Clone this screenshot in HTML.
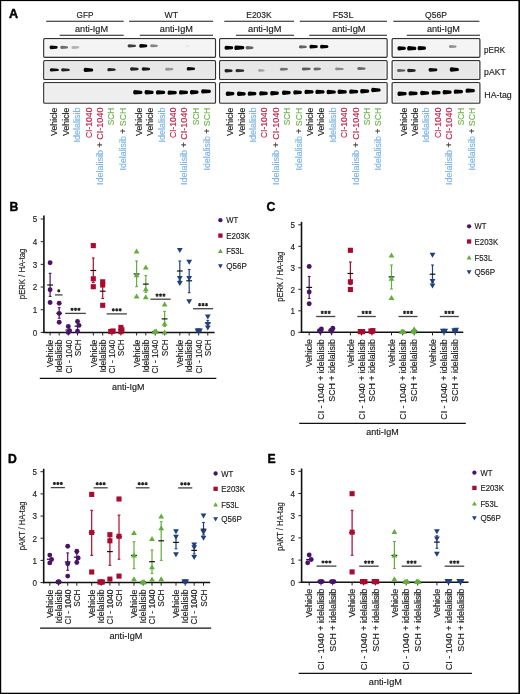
<!DOCTYPE html><html><head><meta charset="utf-8"><style>html,body{margin:0;padding:0;background:#fff;}svg{display:block;font-family:"Liberation Sans", sans-serif;will-change:transform;}</style></head><body>
<svg width="520" height="694" viewBox="0 0 520 694">
<defs><filter id="bl" x="-50%" y="-100%" width="200%" height="300%"><feGaussianBlur stdDeviation="0.65"/></filter><filter id="bl2" x="-50%" y="-100%" width="200%" height="300%"><feGaussianBlur stdDeviation="0.45"/></filter></defs>
<rect x="0" y="0" width="520" height="694" fill="#fff"/>
<text x="9" y="18.2" font-size="12.6" fill="#000" text-anchor="start" font-weight="bold" stroke="#000" stroke-width="0.45">A</text>
<text x="76.6" y="18.4" font-size="9.3" fill="#1a1a1a" text-anchor="start" textLength="16.9" lengthAdjust="spacingAndGlyphs" stroke="#1a1a1a" stroke-width="0.15">GFP</text>
<line x1="46.2" y1="21.3" x2="123.7" y2="21.3" stroke="#1a1a1a" stroke-width="1.1"/>
<text x="75" y="32.4" font-size="8.9" fill="#1a1a1a" text-anchor="start" textLength="33" lengthAdjust="spacingAndGlyphs" stroke="#1a1a1a" stroke-width="0.15">anti-IgM</text>
<line x1="59.7" y1="35.3" x2="123.7" y2="35.3" stroke="#1a1a1a" stroke-width="1.1"/>
<text x="164.6" y="18.4" font-size="9.3" fill="#1a1a1a" text-anchor="start" textLength="13.5" lengthAdjust="spacingAndGlyphs" stroke="#1a1a1a" stroke-width="0.15">WT</text>
<line x1="129.1" y1="21.3" x2="213.1" y2="21.3" stroke="#1a1a1a" stroke-width="1.1"/>
<text x="159.8" y="32.4" font-size="8.9" fill="#1a1a1a" text-anchor="start" textLength="33.1" lengthAdjust="spacingAndGlyphs" stroke="#1a1a1a" stroke-width="0.15">anti-IgM</text>
<line x1="139.8" y1="35.3" x2="213.1" y2="35.3" stroke="#1a1a1a" stroke-width="1.1"/>
<text x="246.3" y="18.4" font-size="9.3" fill="#1a1a1a" text-anchor="start" textLength="25.3" lengthAdjust="spacingAndGlyphs" stroke="#1a1a1a" stroke-width="0.15">E203K</text>
<line x1="224.3" y1="21.3" x2="294" y2="21.3" stroke="#1a1a1a" stroke-width="1.1"/>
<text x="248" y="32.4" font-size="8.9" fill="#1a1a1a" text-anchor="start" textLength="33.4" lengthAdjust="spacingAndGlyphs" stroke="#1a1a1a" stroke-width="0.15">anti-IgM</text>
<line x1="235.9" y1="35.3" x2="294" y2="35.3" stroke="#1a1a1a" stroke-width="1.1"/>
<text x="332.7" y="18.4" font-size="9.3" fill="#1a1a1a" text-anchor="start" textLength="20.8" lengthAdjust="spacingAndGlyphs" stroke="#1a1a1a" stroke-width="0.15">F53L</text>
<line x1="299.8" y1="21.3" x2="387" y2="21.3" stroke="#1a1a1a" stroke-width="1.1"/>
<text x="332" y="32.4" font-size="8.9" fill="#1a1a1a" text-anchor="start" textLength="33.6" lengthAdjust="spacingAndGlyphs" stroke="#1a1a1a" stroke-width="0.15">anti-IgM</text>
<line x1="309.2" y1="35.3" x2="387" y2="35.3" stroke="#1a1a1a" stroke-width="1.1"/>
<text x="425.1" y="18.4" font-size="9.3" fill="#1a1a1a" text-anchor="start" textLength="21.9" lengthAdjust="spacingAndGlyphs" stroke="#1a1a1a" stroke-width="0.15">Q56P</text>
<line x1="393.3" y1="21.3" x2="479.4" y2="21.3" stroke="#1a1a1a" stroke-width="1.1"/>
<text x="426.9" y="32.4" font-size="8.9" fill="#1a1a1a" text-anchor="start" textLength="32.9" lengthAdjust="spacingAndGlyphs" stroke="#1a1a1a" stroke-width="0.15">anti-IgM</text>
<line x1="406.8" y1="35.3" x2="480" y2="35.3" stroke="#1a1a1a" stroke-width="1.1"/>
<rect x="43.75" y="38.65" width="171.7" height="18.6" rx="1.0" fill="#f4f4f4" stroke="#333" stroke-width="1.3"/>
<rect x="44.9" y="39.8" width="169.4" height="16.3" fill="none" stroke="#fff" stroke-opacity="0.75" stroke-width="0.9"/>
<rect x="43.75" y="60.65" width="171.7" height="18.8" rx="1.0" fill="#e7e7e7" stroke="#333" stroke-width="1.3"/>
<rect x="44.9" y="61.8" width="169.4" height="16.5" fill="none" stroke="#fff" stroke-opacity="0.75" stroke-width="0.9"/>
<rect x="43.75" y="82.55" width="171.7" height="20.6" rx="1.0" fill="#eeeeee" stroke="#333" stroke-width="1.3"/>
<rect x="44.9" y="83.7" width="169.4" height="18.3" fill="none" stroke="#fff" stroke-opacity="0.75" stroke-width="0.9"/>
<rect x="219.65" y="38.65" width="167.4" height="18.6" rx="1.0" fill="#f4f4f4" stroke="#333" stroke-width="1.3"/>
<rect x="220.8" y="39.8" width="165.1" height="16.3" fill="none" stroke="#fff" stroke-opacity="0.75" stroke-width="0.9"/>
<rect x="219.65" y="60.65" width="167.4" height="18.8" rx="1.0" fill="#e7e7e7" stroke="#333" stroke-width="1.3"/>
<rect x="220.8" y="61.8" width="165.1" height="16.5" fill="none" stroke="#fff" stroke-opacity="0.75" stroke-width="0.9"/>
<rect x="219.65" y="82.55" width="167.4" height="20.6" rx="1.0" fill="#eeeeee" stroke="#333" stroke-width="1.3"/>
<rect x="220.8" y="83.7" width="165.1" height="18.3" fill="none" stroke="#fff" stroke-opacity="0.75" stroke-width="0.9"/>
<rect x="392.15" y="38.65" width="87.7" height="18.6" rx="1.0" fill="#f4f4f4" stroke="#333" stroke-width="1.3"/>
<rect x="393.3" y="39.8" width="85.4" height="16.3" fill="none" stroke="#fff" stroke-opacity="0.75" stroke-width="0.9"/>
<rect x="392.15" y="60.65" width="87.7" height="18.8" rx="1.0" fill="#e7e7e7" stroke="#333" stroke-width="1.3"/>
<rect x="393.3" y="61.8" width="85.4" height="16.5" fill="none" stroke="#fff" stroke-opacity="0.75" stroke-width="0.9"/>
<rect x="392.15" y="82.55" width="87.7" height="20.6" rx="1.0" fill="#eeeeee" stroke="#333" stroke-width="1.3"/>
<rect x="393.3" y="83.7" width="85.4" height="18.3" fill="none" stroke="#fff" stroke-opacity="0.75" stroke-width="0.9"/>
<path d="M51 45.6C49.1 45.6 49.1 49.2 51 49.2L56.5 48.7C58.1 48.7 58.1 46.1 56.5 46.1L51 45.6C51 45.6 51 45.6 51 45.6Z" fill="#000" fill-opacity="0.95" filter="url(#bl)"/>
<path d="M61.7 45.8C59.8 45.8 59.8 49 61.7 49L66.9 48.55C68.5 48.55 68.5 46.25 66.9 46.25L61.7 45.8C61.7 45.8 61.7 45.8 61.7 45.8Z" fill="#000" fill-opacity="0.55" filter="url(#bl)"/>
<path d="M72.9 45.9C71 45.9 71 48.9 72.9 48.9L78.1 48.48C79.7 48.48 79.7 46.32 78.1 46.32L72.9 45.9C72.9 45.9 72.9 45.9 72.9 45.9Z" fill="#000" fill-opacity="0.28" filter="url(#bl)"/>
<path d="M129.1 44.2C127.2 44.2 127.2 47.4 129.1 47.4L134.8 46.95C136.4 46.95 136.4 44.65 134.8 44.65L129.1 44.2C129.1 44.2 129.1 44.2 129.1 44.2Z" fill="#000" fill-opacity="0.75" filter="url(#bl)"/>
<path d="M140.7 43.9C138.8 43.9 138.8 47.7 140.7 47.7L146.1 47.17C147.7 47.17 147.7 44.43 146.1 44.43L140.7 43.9C140.7 43.9 140.7 43.9 140.7 43.9Z" fill="#000" fill-opacity="1" filter="url(#bl)"/>
<path d="M151.6 44.3C149.7 44.3 149.7 47.3 151.6 47.3L156.7 46.88C158.3 46.88 158.3 44.72 156.7 44.72L151.6 44.3C151.6 44.3 151.6 44.3 151.6 44.3Z" fill="#000" fill-opacity="0.45" filter="url(#bl)"/>
<path d="M186.4 44.7C184.5 44.7 184.5 47.3 186.4 47.3L188.8 46.94C190.4 46.94 190.4 45.06 188.8 45.06L186.4 44.7C186.4 44.7 186.4 44.7 186.4 44.7Z" fill="#000" fill-opacity="0.05" filter="url(#bl)"/>
<path d="M226 45.7C224.1 45.7 224.1 49.7 226 49.7L232 49.14C233.6 49.14 233.6 46.26 232 46.26L226 45.7C226 45.7 226 45.7 226 45.7Z" fill="#000" fill-opacity="1" filter="url(#bl)"/>
<path d="M235.8 45.4C233.9 45.4 233.9 50 235.8 50L243.1 49.36C244.7 49.36 244.7 46.04 243.1 46.04L235.8 45.4C235.8 45.4 235.8 45.4 235.8 45.4Z" fill="#000" fill-opacity="1" filter="url(#bl)"/>
<path d="M247.1 46C245.2 46 245.2 49.4 247.1 49.4L252.3 48.92C253.9 48.92 253.9 46.48 252.3 46.48L247.1 46C247.1 46 247.1 46 247.1 46Z" fill="#000" fill-opacity="0.6" filter="url(#bl)"/>
<path d="M300.4 45.2C298.5 45.2 298.5 48.4 300.4 48.4L305.6 47.95C307.2 47.95 307.2 45.65 305.6 45.65L300.4 45.2C300.4 45.2 300.4 45.2 300.4 45.2Z" fill="#000" fill-opacity="0.6" filter="url(#bl)"/>
<path d="M310.9 44.8C309 44.8 309 48.6 310.9 48.6L316.6 48.07C318.2 48.07 318.2 45.33 316.6 45.33L310.9 44.8C310.9 44.8 310.9 44.8 310.9 44.8Z" fill="#000" fill-opacity="1" filter="url(#bl)"/>
<path d="M321.5 44.8C319.6 44.8 319.6 48.6 321.5 48.6L327.2 48.07C328.8 48.07 328.8 45.33 327.2 45.33L321.5 44.8C321.5 44.8 321.5 44.8 321.5 44.8Z" fill="#000" fill-opacity="1" filter="url(#bl)"/>
<path d="M398.9 46.2C397 46.2 397 50.4 398.9 50.4L404.7 49.81C406.3 49.81 406.3 46.79 404.7 46.79L398.9 46.2C398.9 46.2 398.9 46.2 398.9 46.2Z" fill="#000" fill-opacity="1" filter="url(#bl)"/>
<path d="M408.6 46C406.7 46 406.7 50.6 408.6 50.6L415.1 49.96C416.7 49.96 416.7 46.64 415.1 46.64L408.6 46C408.6 46 408.6 46 408.6 46Z" fill="#000" fill-opacity="1" filter="url(#bl)"/>
<path d="M419 45.9C417.1 45.9 417.1 50.3 419 50.3L424.8 49.68C426.4 49.68 426.4 46.52 424.8 46.52L419 45.9C419 45.9 419 45.9 419 45.9Z" fill="#000" fill-opacity="1" filter="url(#bl)"/>
<path d="M450.3 45.1C448.4 45.1 448.4 48.1 450.3 48.1L455.4 47.68C457 47.68 457 45.52 455.4 45.52L450.3 45.1C450.3 45.1 450.3 45.1 450.3 45.1Z" fill="#000" fill-opacity="0.4" filter="url(#bl)"/>
<path d="M51.3 68.2C49.4 68.2 49.4 71.6 51.3 71.6L57.7 71.12C59.3 71.12 59.3 68.68 57.7 68.68L51.3 68.2C51.3 68.2 51.3 68.2 51.3 68.2Z" fill="#000" fill-opacity="0.95" filter="url(#bl)"/>
<path d="M62.6 68.3C60.7 68.3 60.7 71.5 62.6 71.5L68.6 71.05C70.2 71.05 70.2 68.75 68.6 68.75L62.6 68.3C62.6 68.3 62.6 68.3 62.6 68.3Z" fill="#000" fill-opacity="0.85" filter="url(#bl)"/>
<path d="M85.1 67.8C83.2 67.8 83.2 72 85.1 72L92 71.41C93.6 71.41 93.6 68.39 92 68.39L85.1 67.8C85.1 67.8 85.1 67.8 85.1 67.8Z" fill="#000" fill-opacity="1" filter="url(#bl)"/>
<path d="M108.8 67.9C106.9 67.9 106.9 71.3 108.8 71.3L114.5 70.82C116.1 70.82 116.1 68.38 114.5 68.38L108.8 67.9C108.8 67.9 108.8 67.9 108.8 67.9Z" fill="#000" fill-opacity="0.85" filter="url(#bl)"/>
<path d="M131.5 67.3C129.6 67.3 129.6 70.7 131.5 70.7L137.5 70.22C139.1 70.22 139.1 67.78 137.5 67.78L131.5 67.3C131.5 67.3 131.5 67.3 131.5 67.3Z" fill="#000" fill-opacity="0.85" filter="url(#bl)"/>
<path d="M143.2 67.3C141.3 67.3 141.3 70.7 143.2 70.7L149 70.22C150.6 70.22 150.6 67.78 149 67.78L143.2 67.3C143.2 67.3 143.2 67.3 143.2 67.3Z" fill="#000" fill-opacity="0.9" filter="url(#bl)"/>
<path d="M166.6 67.7C164.7 67.7 164.7 70.7 166.6 70.7L172.2 70.28C173.8 70.28 173.8 68.12 172.2 68.12L166.6 67.7C166.6 67.7 166.6 67.7 166.6 67.7Z" fill="#000" fill-opacity="0.35" filter="url(#bl)"/>
<path d="M188.2 67C186.3 67 186.3 70.6 188.2 70.6L193.8 70.1C195.4 70.1 195.4 67.5 193.8 67.5L188.2 67C188.2 67 188.2 67 188.2 67Z" fill="#000" fill-opacity="0.95" filter="url(#bl)"/>
<path d="M226 69C224.1 69 224.1 72.4 226 72.4L231.5 71.92C233.1 71.92 233.1 69.48 231.5 69.48L226 69C226 69 226 69 226 69Z" fill="#000" fill-opacity="0.85" filter="url(#bl)"/>
<path d="M237 69.1C235.1 69.1 235.1 72.3 237 72.3L243.1 71.85C244.7 71.85 244.7 69.55 243.1 69.55L237 69.1C237 69.1 237 69.1 237 69.1Z" fill="#000" fill-opacity="0.8" filter="url(#bl)"/>
<path d="M259.5 69C257.6 69 257.6 71.8 259.5 71.8L263.5 71.41C265.1 71.41 265.1 69.39 263.5 69.39L259.5 69C259.5 69 259.5 69 259.5 69Z" fill="#000" fill-opacity="0.3" filter="url(#bl)"/>
<path d="M281.3 67.7C279.4 67.7 279.4 70.7 281.3 70.7L286.8 70.28C288.4 70.28 288.4 68.12 286.8 68.12L281.3 67.7C281.3 67.7 281.3 67.7 281.3 67.7Z" fill="#000" fill-opacity="0.5" filter="url(#bl)"/>
<path d="M303.3 67.4C301.4 67.4 301.4 70.4 303.3 70.4L309.5 69.98C311.1 69.98 311.1 67.82 309.5 67.82L303.3 67.4C303.3 67.4 303.3 67.4 303.3 67.4Z" fill="#000" fill-opacity="0.6" filter="url(#bl)"/>
<path d="M315 67.4C313.1 67.4 313.1 70.4 315 70.4L319.8 69.98C321.4 69.98 321.4 67.82 319.8 67.82L315 67.4C315 67.4 315 67.4 315 67.4Z" fill="#000" fill-opacity="0.55" filter="url(#bl)"/>
<path d="M336.6 67.5C334.7 67.5 334.7 70.3 336.6 70.3L342.5 69.91C344.1 69.91 344.1 67.89 342.5 67.89L336.6 67.5C336.6 67.5 336.6 67.5 336.6 67.5Z" fill="#000" fill-opacity="0.4" filter="url(#bl)"/>
<path d="M358.7 67.1C356.8 67.1 356.8 70.1 358.7 70.1L364.4 69.68C366 69.68 366 67.52 364.4 67.52L358.7 67.1C358.7 67.1 358.7 67.1 358.7 67.1Z" fill="#000" fill-opacity="0.55" filter="url(#bl)"/>
<path d="M398.5 69C396.6 69 396.6 72 398.5 72L404.2 71.58C405.8 71.58 405.8 69.42 404.2 69.42L398.5 69C398.5 69 398.5 69 398.5 69Z" fill="#000" fill-opacity="0.6" filter="url(#bl)"/>
<path d="M408.6 68.8C406.7 68.8 406.7 72.2 408.6 72.2L414.6 71.72C416.2 71.72 416.2 69.28 414.6 69.28L408.6 68.8C408.6 68.8 408.6 68.8 408.6 68.8Z" fill="#000" fill-opacity="0.85" filter="url(#bl)"/>
<path d="M430 68.1C428.1 68.1 428.1 71.7 430 71.7L436.2 71.2C437.8 71.2 437.8 68.6 436.2 68.6L430 68.1C430 68.1 430 68.1 430 68.1Z" fill="#000" fill-opacity="0.95" filter="url(#bl)"/>
<path d="M451.2 67.3C449.3 67.3 449.3 71.7 451.2 71.7L457.7 71.08C459.3 71.08 459.3 67.92 457.7 67.92L451.2 67.3C451.2 67.3 451.2 67.3 451.2 67.3Z" fill="#000" fill-opacity="1" filter="url(#bl)"/>
<path d="M134.6 90.1C132.7 90.1 132.7 94.5 134.6 94.5L141.2 93.88C142.8 93.88 142.8 90.72 141.2 90.72L134.6 90.1C134.6 90.1 134.6 90.1 134.6 90.1Z" fill="#000" fill-opacity="1" filter="url(#bl)"/>
<path d="M146 90.1C144.1 90.1 144.1 94.5 146 94.5L152.4 93.88C154 93.88 154 90.72 152.4 90.72L146 90.1C146 90.1 146 90.1 146 90.1Z" fill="#000" fill-opacity="1" filter="url(#bl)"/>
<path d="M157.4 90.2C155.5 90.2 155.5 94.6 157.4 94.6L164 93.98C165.6 93.98 165.6 90.82 164 90.82L157.4 90.2C157.4 90.2 157.4 90.2 157.4 90.2Z" fill="#000" fill-opacity="1" filter="url(#bl)"/>
<path d="M169 90.4C167.1 90.4 167.1 94.8 169 94.8L175.6 94.18C177.2 94.18 177.2 91.02 175.6 91.02L169 90.4C169 90.4 169 90.4 169 90.4Z" fill="#000" fill-opacity="1" filter="url(#bl)"/>
<path d="M180.4 90.2C178.5 90.2 178.5 94.6 180.4 94.6L186.8 93.98C188.4 93.98 188.4 90.82 186.8 90.82L180.4 90.2C180.4 90.2 180.4 90.2 180.4 90.2Z" fill="#000" fill-opacity="1" filter="url(#bl)"/>
<path d="M191.4 90C189.5 90 189.5 94.4 191.4 94.4L197.4 93.78C199 93.78 199 90.62 197.4 90.62L191.4 90C191.4 90 191.4 90 191.4 90Z" fill="#000" fill-opacity="1" filter="url(#bl)"/>
<path d="M202.6 89.2C200.7 89.2 200.7 93.6 202.6 93.6L209.7 92.98C211.3 92.98 211.3 89.82 209.7 89.82L202.6 89.2C202.6 89.2 202.6 89.2 202.6 89.2Z" fill="#000" fill-opacity="1" filter="url(#bl)"/>
<path d="M227.2 91.5C225.3 91.5 225.3 95.9 227.2 95.9L233.2 95.28C234.8 95.28 234.8 92.12 233.2 92.12L227.2 91.5C227.2 91.5 227.2 91.5 227.2 91.5Z" fill="#000" fill-opacity="1" filter="url(#bl)"/>
<path d="M238.4 91.6C236.5 91.6 236.5 96 238.4 96L244.5 95.38C246.1 95.38 246.1 92.22 244.5 92.22L238.4 91.6C238.4 91.6 238.4 91.6 238.4 91.6Z" fill="#000" fill-opacity="1" filter="url(#bl)"/>
<path d="M249.2 91.4C247.3 91.4 247.3 95.8 249.2 95.8L255.2 95.18C256.8 95.18 256.8 92.02 255.2 92.02L249.2 91.4C249.2 91.4 249.2 91.4 249.2 91.4Z" fill="#000" fill-opacity="1" filter="url(#bl)"/>
<path d="M260.6 91.2C258.7 91.2 258.7 95.6 260.6 95.6L266.6 94.98C268.2 94.98 268.2 91.82 266.6 91.82L260.6 91.2C260.6 91.2 260.6 91.2 260.6 91.2Z" fill="#000" fill-opacity="1" filter="url(#bl)"/>
<path d="M271.6 91C269.7 91 269.7 95.4 271.6 95.4L277.7 94.78C279.3 94.78 279.3 91.62 277.7 91.62L271.6 91C271.6 91 271.6 91 271.6 91Z" fill="#000" fill-opacity="1" filter="url(#bl)"/>
<path d="M283.4 90.5C281.5 90.5 281.5 94.9 283.4 94.9L289.5 94.28C291.1 94.28 291.1 91.12 289.5 91.12L283.4 90.5C283.4 90.5 283.4 90.5 283.4 90.5Z" fill="#000" fill-opacity="1" filter="url(#bl)"/>
<path d="M294.7 90.2C292.8 90.2 292.8 94.6 294.7 94.6L300.7 93.98C302.3 93.98 302.3 90.82 300.7 90.82L294.7 90.2C294.7 90.2 294.7 90.2 294.7 90.2Z" fill="#000" fill-opacity="1" filter="url(#bl)"/>
<path d="M305.9 89.7C304 89.7 304 94.1 305.9 94.1L312.4 93.48C314 93.48 314 90.32 312.4 90.32L305.9 89.7C305.9 89.7 305.9 89.7 305.9 89.7Z" fill="#000" fill-opacity="1" filter="url(#bl)"/>
<path d="M316.8 89.7C314.9 89.7 314.9 94.1 316.8 94.1L323.4 93.48C325 93.48 325 90.32 323.4 90.32L316.8 89.7C316.8 89.7 316.8 89.7 316.8 89.7Z" fill="#000" fill-opacity="1" filter="url(#bl)"/>
<path d="M328 89.8C326.1 89.8 326.1 94.2 328 94.2L334.6 93.58C336.2 93.58 336.2 90.42 334.6 90.42L328 89.8C328 89.8 328 89.8 328 89.8Z" fill="#000" fill-opacity="1" filter="url(#bl)"/>
<path d="M339 89.6C337.1 89.6 337.1 94 339 94L345.6 93.38C347.2 93.38 347.2 90.22 345.6 90.22L339 89.6C339 89.6 339 89.6 339 89.6Z" fill="#000" fill-opacity="1" filter="url(#bl)"/>
<path d="M350.6 89.4C348.7 89.4 348.7 93.8 350.6 93.8L357 93.18C358.6 93.18 358.6 90.02 357 90.02L350.6 89.4C350.6 89.4 350.6 89.4 350.6 89.4Z" fill="#000" fill-opacity="1" filter="url(#bl)"/>
<path d="M361.6 89C359.7 89 359.7 93.4 361.6 93.4L368 92.78C369.6 92.78 369.6 89.62 368 89.62L361.6 89C361.6 89 361.6 89 361.6 89Z" fill="#000" fill-opacity="1" filter="url(#bl)"/>
<path d="M372.6 87.8C370.7 87.8 370.7 92.2 372.6 92.2L379.4 91.58C381 91.58 381 88.42 379.4 88.42L372.6 87.8C372.6 87.8 372.6 87.8 372.6 87.8Z" fill="#000" fill-opacity="1" filter="url(#bl)"/>
<path d="M398.9 91.5C397 91.5 397 95.9 398.9 95.9L405.5 95.28C407.1 95.28 407.1 92.12 405.5 92.12L398.9 91.5C398.9 91.5 398.9 91.5 398.9 91.5Z" fill="#000" fill-opacity="1" filter="url(#bl)"/>
<path d="M410 91.2C408.1 91.2 408.1 95.6 410 95.6L416.4 94.98C418 94.98 418 91.82 416.4 91.82L410 91.2C410 91.2 410 91.2 410 91.2Z" fill="#000" fill-opacity="1" filter="url(#bl)"/>
<path d="M421.6 90.8C419.7 90.8 419.7 95.2 421.6 95.2L428 94.58C429.6 94.58 429.6 91.42 428 91.42L421.6 90.8C421.6 90.8 421.6 90.8 421.6 90.8Z" fill="#000" fill-opacity="1" filter="url(#bl)"/>
<path d="M433 90.4C431.1 90.4 431.1 94.8 433 94.8L439.4 94.18C441 94.18 441 91.02 439.4 91.02L433 90.4C433 90.4 433 90.4 433 90.4Z" fill="#000" fill-opacity="1" filter="url(#bl)"/>
<path d="M444 90C442.1 90 442.1 94.4 444 94.4L450.4 93.78C452 93.78 452 90.62 450.4 90.62L444 90C444 90 444 90 444 90Z" fill="#000" fill-opacity="1" filter="url(#bl)"/>
<path d="M455.2 89.4C453.3 89.4 453.3 93.8 455.2 93.8L461.8 93.18C463.4 93.18 463.4 90.02 461.8 90.02L455.2 89.4C455.2 89.4 455.2 89.4 455.2 89.4Z" fill="#000" fill-opacity="1" filter="url(#bl)"/>
<path d="M467 88.4C465.1 88.4 465.1 92.8 467 92.8L473.7 92.18C475.3 92.18 475.3 89.02 473.7 89.02L467 88.4C467 88.4 467 88.4 467 88.4Z" fill="#000" fill-opacity="1" filter="url(#bl)"/>
<text x="484.1" y="53" font-size="8.9" fill="#1a1a1a" text-anchor="start" textLength="21" lengthAdjust="spacingAndGlyphs" stroke="#1a1a1a" stroke-width="0.15">pERK</text>
<text x="484.1" y="74.9" font-size="8.9" fill="#1a1a1a" text-anchor="start" textLength="21.6" lengthAdjust="spacingAndGlyphs" stroke="#1a1a1a" stroke-width="0.15">pAKT</text>
<text x="484.3" y="98.2" font-size="8.9" fill="#1a1a1a" text-anchor="start" textLength="27.4" lengthAdjust="spacingAndGlyphs" stroke="#1a1a1a" stroke-width="0.15">HA-tag</text>
<text transform="translate(57.3,107.6) rotate(-90)" font-size="8.6" fill="#1a1a1a" text-anchor="end" textLength="28.3" lengthAdjust="spacingAndGlyphs" stroke="#1a1a1a" stroke-width="0.15">Vehicle</text>
<text transform="translate(68.7,107.6) rotate(-90)" font-size="8.6" fill="#1a1a1a" text-anchor="end" textLength="28.3" lengthAdjust="spacingAndGlyphs" stroke="#1a1a1a" stroke-width="0.15">Vehicle</text>
<text transform="translate(80.1,107.6) rotate(-90)" font-size="8.6" fill="#7db3e3" text-anchor="end" textLength="34.9" lengthAdjust="spacingAndGlyphs" stroke="#7db3e3" stroke-width="0.15">Idelalisib</text>
<text transform="translate(91.5,107.6) rotate(-90)" font-size="8.6" fill="#c0264a" text-anchor="end" textLength="30.5" lengthAdjust="spacingAndGlyphs" stroke="#c0264a" stroke-width="0.15">CI-1040</text>
<text transform="translate(102.9,107.6) rotate(-90)" font-size="8.6" fill="#1a1a1a" text-anchor="end" textLength="77.5" lengthAdjust="spacingAndGlyphs" stroke="#1a1a1a" stroke-width="0.15"><tspan fill="#7db3e3" stroke="#7db3e3">Idelalisib</tspan><tspan fill="#333" stroke="#333"> + </tspan><tspan fill="#c0264a" stroke="#c0264a">CI-1040</tspan></text>
<text transform="translate(114.3,107.6) rotate(-90)" font-size="8.6" fill="#6cb04a" text-anchor="end" textLength="17.7" lengthAdjust="spacingAndGlyphs" stroke="#6cb04a" stroke-width="0.15">SCH</text>
<text transform="translate(125.7,107.6) rotate(-90)" font-size="8.6" fill="#1a1a1a" text-anchor="end" textLength="62.8" lengthAdjust="spacingAndGlyphs" stroke="#1a1a1a" stroke-width="0.15"><tspan fill="#7db3e3" stroke="#7db3e3">Idelalisib</tspan><tspan fill="#333" stroke="#333"> + </tspan><tspan fill="#6cb04a" stroke="#6cb04a">SCH</tspan></text>
<text transform="translate(141.7,107.6) rotate(-90)" font-size="8.6" fill="#1a1a1a" text-anchor="end" textLength="28.3" lengthAdjust="spacingAndGlyphs" stroke="#1a1a1a" stroke-width="0.15">Vehicle</text>
<text transform="translate(153.1,107.6) rotate(-90)" font-size="8.6" fill="#1a1a1a" text-anchor="end" textLength="28.3" lengthAdjust="spacingAndGlyphs" stroke="#1a1a1a" stroke-width="0.15">Vehicle</text>
<text transform="translate(164.5,107.6) rotate(-90)" font-size="8.6" fill="#7db3e3" text-anchor="end" textLength="34.9" lengthAdjust="spacingAndGlyphs" stroke="#7db3e3" stroke-width="0.15">Idelalisib</text>
<text transform="translate(175.9,107.6) rotate(-90)" font-size="8.6" fill="#c0264a" text-anchor="end" textLength="30.5" lengthAdjust="spacingAndGlyphs" stroke="#c0264a" stroke-width="0.15">CI-1040</text>
<text transform="translate(187.3,107.6) rotate(-90)" font-size="8.6" fill="#1a1a1a" text-anchor="end" textLength="77.5" lengthAdjust="spacingAndGlyphs" stroke="#1a1a1a" stroke-width="0.15"><tspan fill="#7db3e3" stroke="#7db3e3">Idelalisib</tspan><tspan fill="#333" stroke="#333"> + </tspan><tspan fill="#c0264a" stroke="#c0264a">CI-1040</tspan></text>
<text transform="translate(198.7,107.6) rotate(-90)" font-size="8.6" fill="#6cb04a" text-anchor="end" textLength="17.7" lengthAdjust="spacingAndGlyphs" stroke="#6cb04a" stroke-width="0.15">SCH</text>
<text transform="translate(210.1,107.6) rotate(-90)" font-size="8.6" fill="#1a1a1a" text-anchor="end" textLength="62.8" lengthAdjust="spacingAndGlyphs" stroke="#1a1a1a" stroke-width="0.15"><tspan fill="#7db3e3" stroke="#7db3e3">Idelalisib</tspan><tspan fill="#333" stroke="#333"> + </tspan><tspan fill="#6cb04a" stroke="#6cb04a">SCH</tspan></text>
<text transform="translate(233.2,107.6) rotate(-90)" font-size="8.6" fill="#1a1a1a" text-anchor="end" textLength="28.3" lengthAdjust="spacingAndGlyphs" stroke="#1a1a1a" stroke-width="0.15">Vehicle</text>
<text transform="translate(244.6,107.6) rotate(-90)" font-size="8.6" fill="#1a1a1a" text-anchor="end" textLength="28.3" lengthAdjust="spacingAndGlyphs" stroke="#1a1a1a" stroke-width="0.15">Vehicle</text>
<text transform="translate(256,107.6) rotate(-90)" font-size="8.6" fill="#7db3e3" text-anchor="end" textLength="34.9" lengthAdjust="spacingAndGlyphs" stroke="#7db3e3" stroke-width="0.15">Idelalisib</text>
<text transform="translate(267.4,107.6) rotate(-90)" font-size="8.6" fill="#c0264a" text-anchor="end" textLength="30.5" lengthAdjust="spacingAndGlyphs" stroke="#c0264a" stroke-width="0.15">CI-1040</text>
<text transform="translate(278.8,107.6) rotate(-90)" font-size="8.6" fill="#1a1a1a" text-anchor="end" textLength="77.5" lengthAdjust="spacingAndGlyphs" stroke="#1a1a1a" stroke-width="0.15"><tspan fill="#7db3e3" stroke="#7db3e3">Idelalisib</tspan><tspan fill="#333" stroke="#333"> + </tspan><tspan fill="#c0264a" stroke="#c0264a">CI-1040</tspan></text>
<text transform="translate(290.2,107.6) rotate(-90)" font-size="8.6" fill="#6cb04a" text-anchor="end" textLength="17.7" lengthAdjust="spacingAndGlyphs" stroke="#6cb04a" stroke-width="0.15">SCH</text>
<text transform="translate(301.6,107.6) rotate(-90)" font-size="8.6" fill="#1a1a1a" text-anchor="end" textLength="62.8" lengthAdjust="spacingAndGlyphs" stroke="#1a1a1a" stroke-width="0.15"><tspan fill="#7db3e3" stroke="#7db3e3">Idelalisib</tspan><tspan fill="#333" stroke="#333"> + </tspan><tspan fill="#6cb04a" stroke="#6cb04a">SCH</tspan></text>
<text transform="translate(312.9,107.6) rotate(-90)" font-size="8.6" fill="#1a1a1a" text-anchor="end" textLength="28.3" lengthAdjust="spacingAndGlyphs" stroke="#1a1a1a" stroke-width="0.15">Vehicle</text>
<text transform="translate(324.3,107.6) rotate(-90)" font-size="8.6" fill="#1a1a1a" text-anchor="end" textLength="28.3" lengthAdjust="spacingAndGlyphs" stroke="#1a1a1a" stroke-width="0.15">Vehicle</text>
<text transform="translate(335.7,107.6) rotate(-90)" font-size="8.6" fill="#7db3e3" text-anchor="end" textLength="34.9" lengthAdjust="spacingAndGlyphs" stroke="#7db3e3" stroke-width="0.15">Idelalisib</text>
<text transform="translate(347.1,107.6) rotate(-90)" font-size="8.6" fill="#c0264a" text-anchor="end" textLength="30.5" lengthAdjust="spacingAndGlyphs" stroke="#c0264a" stroke-width="0.15">CI-1040</text>
<text transform="translate(358.5,107.6) rotate(-90)" font-size="8.6" fill="#1a1a1a" text-anchor="end" textLength="77.5" lengthAdjust="spacingAndGlyphs" stroke="#1a1a1a" stroke-width="0.15"><tspan fill="#7db3e3" stroke="#7db3e3">Idelalisib</tspan><tspan fill="#333" stroke="#333"> + </tspan><tspan fill="#c0264a" stroke="#c0264a">CI-1040</tspan></text>
<text transform="translate(369.9,107.6) rotate(-90)" font-size="8.6" fill="#6cb04a" text-anchor="end" textLength="17.7" lengthAdjust="spacingAndGlyphs" stroke="#6cb04a" stroke-width="0.15">SCH</text>
<text transform="translate(381.3,107.6) rotate(-90)" font-size="8.6" fill="#1a1a1a" text-anchor="end" textLength="62.8" lengthAdjust="spacingAndGlyphs" stroke="#1a1a1a" stroke-width="0.15"><tspan fill="#7db3e3" stroke="#7db3e3">Idelalisib</tspan><tspan fill="#333" stroke="#333"> + </tspan><tspan fill="#6cb04a" stroke="#6cb04a">SCH</tspan></text>
<text transform="translate(406.6,107.6) rotate(-90)" font-size="8.6" fill="#1a1a1a" text-anchor="end" textLength="28.3" lengthAdjust="spacingAndGlyphs" stroke="#1a1a1a" stroke-width="0.15">Vehicle</text>
<text transform="translate(418,107.6) rotate(-90)" font-size="8.6" fill="#1a1a1a" text-anchor="end" textLength="28.3" lengthAdjust="spacingAndGlyphs" stroke="#1a1a1a" stroke-width="0.15">Vehicle</text>
<text transform="translate(429.4,107.6) rotate(-90)" font-size="8.6" fill="#7db3e3" text-anchor="end" textLength="34.9" lengthAdjust="spacingAndGlyphs" stroke="#7db3e3" stroke-width="0.15">Idelalisib</text>
<text transform="translate(440.8,107.6) rotate(-90)" font-size="8.6" fill="#c0264a" text-anchor="end" textLength="30.5" lengthAdjust="spacingAndGlyphs" stroke="#c0264a" stroke-width="0.15">CI-1040</text>
<text transform="translate(452.2,107.6) rotate(-90)" font-size="8.6" fill="#1a1a1a" text-anchor="end" textLength="77.5" lengthAdjust="spacingAndGlyphs" stroke="#1a1a1a" stroke-width="0.15"><tspan fill="#7db3e3" stroke="#7db3e3">Idelalisib</tspan><tspan fill="#333" stroke="#333"> + </tspan><tspan fill="#c0264a" stroke="#c0264a">CI-1040</tspan></text>
<text transform="translate(463.6,107.6) rotate(-90)" font-size="8.6" fill="#6cb04a" text-anchor="end" textLength="17.7" lengthAdjust="spacingAndGlyphs" stroke="#6cb04a" stroke-width="0.15">SCH</text>
<text transform="translate(475,107.6) rotate(-90)" font-size="8.6" fill="#1a1a1a" text-anchor="end" textLength="62.8" lengthAdjust="spacingAndGlyphs" stroke="#1a1a1a" stroke-width="0.15"><tspan fill="#7db3e3" stroke="#7db3e3">Idelalisib</tspan><tspan fill="#333" stroke="#333"> + </tspan><tspan fill="#6cb04a" stroke="#6cb04a">SCH</tspan></text>
<text x="9.4" y="211.4" font-size="12.2" fill="#000" text-anchor="start" font-weight="bold" stroke="#000" stroke-width="0.4">B</text>
<text transform="translate(25.2,273.9) rotate(-90)" font-size="8.9" fill="#1a1a1a" text-anchor="middle" textLength="50.5" lengthAdjust="spacingAndGlyphs" stroke="#1a1a1a" stroke-width="0.15">pERK / HA-tag</text>
<line x1="43.9" y1="215.6" x2="43.9" y2="333.1" stroke="#111" stroke-width="1.6"/>
<line x1="43.2" y1="332.4" x2="214.6" y2="332.4" stroke="#111" stroke-width="1.5"/>
<line x1="40.7" y1="332.4" x2="43.9" y2="332.4" stroke="#222" stroke-width="1"/>
<text x="37.3" y="335.8" font-size="9.5" fill="#1a1a1a" text-anchor="end" textLength="4.5" lengthAdjust="spacingAndGlyphs" stroke="#1a1a1a" stroke-width="0.15">0</text>
<line x1="40.7" y1="309.72" x2="43.9" y2="309.72" stroke="#222" stroke-width="1"/>
<text x="37.3" y="313.12" font-size="9.5" fill="#1a1a1a" text-anchor="end" textLength="4.5" lengthAdjust="spacingAndGlyphs" stroke="#1a1a1a" stroke-width="0.15">1</text>
<line x1="40.7" y1="287.04" x2="43.9" y2="287.04" stroke="#222" stroke-width="1"/>
<text x="37.3" y="290.44" font-size="9.5" fill="#1a1a1a" text-anchor="end" textLength="4.5" lengthAdjust="spacingAndGlyphs" stroke="#1a1a1a" stroke-width="0.15">2</text>
<line x1="40.7" y1="264.36" x2="43.9" y2="264.36" stroke="#222" stroke-width="1"/>
<text x="37.3" y="267.76" font-size="9.5" fill="#1a1a1a" text-anchor="end" textLength="4.5" lengthAdjust="spacingAndGlyphs" stroke="#1a1a1a" stroke-width="0.15">3</text>
<line x1="40.7" y1="241.68" x2="43.9" y2="241.68" stroke="#222" stroke-width="1"/>
<text x="37.3" y="245.08" font-size="9.5" fill="#1a1a1a" text-anchor="end" textLength="4.5" lengthAdjust="spacingAndGlyphs" stroke="#1a1a1a" stroke-width="0.15">4</text>
<line x1="40.7" y1="219" x2="43.9" y2="219" stroke="#222" stroke-width="1"/>
<text x="37.3" y="222.4" font-size="9.5" fill="#1a1a1a" text-anchor="end" textLength="4.5" lengthAdjust="spacingAndGlyphs" stroke="#1a1a1a" stroke-width="0.15">5</text>
<line x1="50.1" y1="332.4" x2="50.1" y2="335.5" stroke="#222" stroke-width="1"/>
<line x1="59.2" y1="332.4" x2="59.2" y2="335.5" stroke="#222" stroke-width="1"/>
<line x1="68.3" y1="332.4" x2="68.3" y2="335.5" stroke="#222" stroke-width="1"/>
<line x1="77.5" y1="332.4" x2="77.5" y2="335.5" stroke="#222" stroke-width="1"/>
<line x1="93.3" y1="332.4" x2="93.3" y2="335.5" stroke="#222" stroke-width="1"/>
<line x1="102.7" y1="332.4" x2="102.7" y2="335.5" stroke="#222" stroke-width="1"/>
<line x1="111.9" y1="332.4" x2="111.9" y2="335.5" stroke="#222" stroke-width="1"/>
<line x1="120.9" y1="332.4" x2="120.9" y2="335.5" stroke="#222" stroke-width="1"/>
<line x1="136.6" y1="332.4" x2="136.6" y2="335.5" stroke="#222" stroke-width="1"/>
<line x1="145.8" y1="332.4" x2="145.8" y2="335.5" stroke="#222" stroke-width="1"/>
<line x1="155.2" y1="332.4" x2="155.2" y2="335.5" stroke="#222" stroke-width="1"/>
<line x1="164.6" y1="332.4" x2="164.6" y2="335.5" stroke="#222" stroke-width="1"/>
<line x1="179.8" y1="332.4" x2="179.8" y2="335.5" stroke="#222" stroke-width="1"/>
<line x1="189.2" y1="332.4" x2="189.2" y2="335.5" stroke="#222" stroke-width="1"/>
<line x1="198.7" y1="332.4" x2="198.7" y2="335.5" stroke="#222" stroke-width="1"/>
<line x1="207.8" y1="332.4" x2="207.8" y2="335.5" stroke="#222" stroke-width="1"/>
<line x1="54.9" y1="294.9" x2="62.6" y2="294.9" stroke="#444" stroke-width="1.3"/>
<path d="M58.75 289.2L58.75 292.4M57.36 290L60.14 291.6M57.36 291.6L60.14 290" stroke="#222" stroke-width="1.1" fill="none"/>
<line x1="65.2" y1="313.4" x2="85.8" y2="313.4" stroke="#444" stroke-width="1.3"/>
<path d="M72.05 307.7L72.05 310.9M70.66 308.5L73.44 310.1M70.66 310.1L73.44 308.5" stroke="#222" stroke-width="1.1" fill="none"/>
<path d="M75.5 307.7L75.5 310.9M74.11 308.5L76.89 310.1M74.11 310.1L76.89 308.5" stroke="#222" stroke-width="1.1" fill="none"/>
<path d="M78.95 307.7L78.95 310.9M77.56 308.5L80.34 310.1M77.56 310.1L80.34 308.5" stroke="#222" stroke-width="1.1" fill="none"/>
<line x1="106.6" y1="313.9" x2="126.9" y2="313.9" stroke="#444" stroke-width="1.3"/>
<path d="M113.3 308.2L113.3 311.4M111.91 309L114.69 310.6M111.91 310.6L114.69 309" stroke="#222" stroke-width="1.1" fill="none"/>
<path d="M116.75 308.2L116.75 311.4M115.36 309L118.14 310.6M115.36 310.6L118.14 309" stroke="#222" stroke-width="1.1" fill="none"/>
<path d="M120.2 308.2L120.2 311.4M118.81 309L121.59 310.6M118.81 310.6L121.59 309" stroke="#222" stroke-width="1.1" fill="none"/>
<line x1="150.4" y1="299.2" x2="170.6" y2="299.2" stroke="#444" stroke-width="1.3"/>
<path d="M157.05 293.5L157.05 296.7M155.66 294.3L158.44 295.9M155.66 295.9L158.44 294.3" stroke="#222" stroke-width="1.1" fill="none"/>
<path d="M160.5 293.5L160.5 296.7M159.11 294.3L161.89 295.9M159.11 295.9L161.89 294.3" stroke="#222" stroke-width="1.1" fill="none"/>
<path d="M163.95 293.5L163.95 296.7M162.56 294.3L165.34 295.9M162.56 295.9L165.34 294.3" stroke="#222" stroke-width="1.1" fill="none"/>
<line x1="193" y1="308.7" x2="213.1" y2="308.7" stroke="#444" stroke-width="1.3"/>
<path d="M199.6 303L199.6 306.2M198.21 303.8L200.99 305.4M198.21 305.4L200.99 303.8" stroke="#222" stroke-width="1.1" fill="none"/>
<path d="M203.05 303L203.05 306.2M201.66 303.8L204.44 305.4M201.66 305.4L204.44 303.8" stroke="#222" stroke-width="1.1" fill="none"/>
<path d="M206.5 303L206.5 306.2M205.11 303.8L207.89 305.4M205.11 305.4L207.89 303.8" stroke="#222" stroke-width="1.1" fill="none"/>
<line x1="50.1" y1="273.3" x2="50.1" y2="296.4" stroke="#4a1466" stroke-width="1.2"/>
<line x1="48.7" y1="273.3" x2="51.5" y2="273.3" stroke="#4a1466" stroke-width="1.1"/>
<line x1="48.7" y1="296.4" x2="51.5" y2="296.4" stroke="#4a1466" stroke-width="1.1"/>
<line x1="47.2" y1="285" x2="53" y2="285" stroke="#111" stroke-width="1.2"/>
<circle cx="50.1" cy="262.7" r="2.45" fill="#4a1466"/>
<circle cx="50.1" cy="289.8" r="2.45" fill="#4a1466"/>
<circle cx="50.1" cy="302.5" r="2.45" fill="#4a1466"/>
<line x1="59.2" y1="307.7" x2="59.2" y2="318.2" stroke="#4a1466" stroke-width="1.2"/>
<line x1="57.8" y1="307.7" x2="60.6" y2="307.7" stroke="#4a1466" stroke-width="1.1"/>
<line x1="57.8" y1="318.2" x2="60.6" y2="318.2" stroke="#4a1466" stroke-width="1.1"/>
<line x1="56.3" y1="313.3" x2="62.1" y2="313.3" stroke="#111" stroke-width="1.2"/>
<circle cx="59.2" cy="303.2" r="2.45" fill="#4a1466"/>
<circle cx="59.2" cy="313.4" r="2.45" fill="#4a1466"/>
<circle cx="59.2" cy="322.2" r="2.45" fill="#4a1466"/>
<line x1="65.4" y1="330" x2="71.2" y2="330" stroke="#111" stroke-width="1.2"/>
<circle cx="68.3" cy="326.5" r="2.45" fill="#4a1466"/>
<circle cx="69.6" cy="330.8" r="2.45" fill="#4a1466"/>
<circle cx="68.3" cy="332.6" r="2.45" fill="#4a1466"/>
<line x1="77.5" y1="322.5" x2="77.5" y2="329.5" stroke="#4a1466" stroke-width="1.2"/>
<line x1="76.1" y1="322.5" x2="78.9" y2="322.5" stroke="#4a1466" stroke-width="1.1"/>
<line x1="76.1" y1="329.5" x2="78.9" y2="329.5" stroke="#4a1466" stroke-width="1.1"/>
<line x1="74.6" y1="326.2" x2="80.4" y2="326.2" stroke="#111" stroke-width="1.2"/>
<circle cx="77.5" cy="321.5" r="2.45" fill="#4a1466"/>
<circle cx="79" cy="325.4" r="2.45" fill="#4a1466"/>
<circle cx="77.5" cy="331.2" r="2.45" fill="#4a1466"/>
<line x1="93.3" y1="258" x2="93.3" y2="282.6" stroke="#ab0a30" stroke-width="1.2"/>
<line x1="91.9" y1="258" x2="94.7" y2="258" stroke="#ab0a30" stroke-width="1.1"/>
<line x1="91.9" y1="282.6" x2="94.7" y2="282.6" stroke="#ab0a30" stroke-width="1.1"/>
<line x1="90.4" y1="270.5" x2="96.2" y2="270.5" stroke="#111" stroke-width="1.2"/>
<rect x="90.75" y="243.05" width="5.1" height="5.1" fill="#ab0a30"/>
<rect x="90.75" y="276.25" width="5.1" height="5.1" fill="#ab0a30"/>
<rect x="90.75" y="284.15" width="5.1" height="5.1" fill="#ab0a30"/>
<line x1="102.7" y1="281" x2="102.7" y2="298.5" stroke="#ab0a30" stroke-width="1.2"/>
<line x1="101.3" y1="281" x2="104.1" y2="281" stroke="#ab0a30" stroke-width="1.1"/>
<line x1="101.3" y1="298.5" x2="104.1" y2="298.5" stroke="#ab0a30" stroke-width="1.1"/>
<line x1="99.8" y1="291.2" x2="105.6" y2="291.2" stroke="#111" stroke-width="1.2"/>
<rect x="100.15" y="279.25" width="5.1" height="5.1" fill="#ab0a30"/>
<rect x="100.15" y="282.45" width="5.1" height="5.1" fill="#ab0a30"/>
<rect x="100.15" y="302.75" width="5.1" height="5.1" fill="#ab0a30"/>
<line x1="109" y1="331.5" x2="114.8" y2="331.5" stroke="#111" stroke-width="1.2"/>
<rect x="109.35" y="328.85" width="5.1" height="5.1" fill="#ab0a30"/>
<rect x="108.15" y="329.05" width="5.1" height="5.1" fill="#ab0a30"/>
<rect x="110.55" y="328.45" width="5.1" height="5.1" fill="#ab0a30"/>
<line x1="118" y1="329.6" x2="123.8" y2="329.6" stroke="#111" stroke-width="1.2"/>
<rect x="118.35" y="324.85" width="5.1" height="5.1" fill="#ab0a30"/>
<rect x="119.35" y="327.25" width="5.1" height="5.1" fill="#ab0a30"/>
<rect x="118.35" y="329.15" width="5.1" height="5.1" fill="#ab0a30"/>
<line x1="136.6" y1="261" x2="136.6" y2="286.7" stroke="#62ad3c" stroke-width="1.2"/>
<line x1="135.2" y1="261" x2="138" y2="261" stroke="#62ad3c" stroke-width="1.1"/>
<line x1="135.2" y1="286.7" x2="138" y2="286.7" stroke="#62ad3c" stroke-width="1.1"/>
<line x1="133.7" y1="274" x2="139.5" y2="274" stroke="#111" stroke-width="1.2"/>
<path d="M136.6 248.5L139.5 253.5L133.7 253.5Z" fill="#62ad3c"/>
<path d="M136.6 272.2L139.5 277.2L133.7 277.2Z" fill="#62ad3c"/>
<path d="M136.6 293.4L139.5 298.4L133.7 298.4Z" fill="#62ad3c"/>
<line x1="145.8" y1="275.5" x2="145.8" y2="292.4" stroke="#62ad3c" stroke-width="1.2"/>
<line x1="144.4" y1="275.5" x2="147.2" y2="275.5" stroke="#62ad3c" stroke-width="1.1"/>
<line x1="144.4" y1="292.4" x2="147.2" y2="292.4" stroke="#62ad3c" stroke-width="1.1"/>
<line x1="142.9" y1="284.1" x2="148.7" y2="284.1" stroke="#111" stroke-width="1.2"/>
<path d="M145.8 264.4L148.7 269.4L142.9 269.4Z" fill="#62ad3c"/>
<path d="M145.8 286.2L148.7 291.2L142.9 291.2Z" fill="#62ad3c"/>
<path d="M145.8 294.2L148.7 299.2L142.9 299.2Z" fill="#62ad3c"/>
<line x1="152.3" y1="331.6" x2="158.1" y2="331.6" stroke="#111" stroke-width="1.2"/>
<path d="M155.2 328.7L158.1 333.7L152.3 333.7Z" fill="#62ad3c"/>
<path d="M154.2 329L157.1 334L151.3 334Z" fill="#62ad3c"/>
<path d="M156.2 328.4L159.1 333.4L153.3 333.4Z" fill="#62ad3c"/>
<line x1="164.6" y1="311.3" x2="164.6" y2="326.4" stroke="#62ad3c" stroke-width="1.2"/>
<line x1="163.2" y1="311.3" x2="166" y2="311.3" stroke="#62ad3c" stroke-width="1.1"/>
<line x1="163.2" y1="326.4" x2="166" y2="326.4" stroke="#62ad3c" stroke-width="1.1"/>
<line x1="161.7" y1="318.9" x2="167.5" y2="318.9" stroke="#111" stroke-width="1.2"/>
<path d="M164.6 301.4L167.5 306.4L161.7 306.4Z" fill="#62ad3c"/>
<path d="M164.6 320.7L167.5 325.7L161.7 325.7Z" fill="#62ad3c"/>
<path d="M164.6 329.5L167.5 334.5L161.7 334.5Z" fill="#62ad3c"/>
<line x1="179.8" y1="261" x2="179.8" y2="280.3" stroke="#1f3f80" stroke-width="1.2"/>
<line x1="178.4" y1="261" x2="181.2" y2="261" stroke="#1f3f80" stroke-width="1.1"/>
<line x1="178.4" y1="280.3" x2="181.2" y2="280.3" stroke="#1f3f80" stroke-width="1.1"/>
<line x1="176.9" y1="271" x2="182.7" y2="271" stroke="#111" stroke-width="1.2"/>
<path d="M179.8 252.9L182.7 247.9L176.9 247.9Z" fill="#1f3f80"/>
<path d="M179.8 280.9L182.7 275.9L176.9 275.9Z" fill="#1f3f80"/>
<path d="M179.8 285.9L182.7 280.9L176.9 280.9Z" fill="#1f3f80"/>
<line x1="189.2" y1="269.5" x2="189.2" y2="292.7" stroke="#1f3f80" stroke-width="1.2"/>
<line x1="187.8" y1="269.5" x2="190.6" y2="269.5" stroke="#1f3f80" stroke-width="1.1"/>
<line x1="187.8" y1="292.7" x2="190.6" y2="292.7" stroke="#1f3f80" stroke-width="1.1"/>
<line x1="186.3" y1="280.8" x2="192.1" y2="280.8" stroke="#111" stroke-width="1.2"/>
<path d="M189.2 264.7L192.1 259.7L186.3 259.7Z" fill="#1f3f80"/>
<path d="M189.2 280.9L192.1 275.9L186.3 275.9Z" fill="#1f3f80"/>
<path d="M189.2 304.3L192.1 299.3L186.3 299.3Z" fill="#1f3f80"/>
<line x1="195.8" y1="331" x2="201.6" y2="331" stroke="#111" stroke-width="1.2"/>
<path d="M198.7 333.4L201.6 328.4L195.8 328.4Z" fill="#1f3f80"/>
<path d="M197.5 333.4L200.4 328.4L194.6 328.4Z" fill="#1f3f80"/>
<path d="M199.9 333.4L202.8 328.4L197 328.4Z" fill="#1f3f80"/>
<line x1="207.8" y1="320.4" x2="207.8" y2="326.4" stroke="#1f3f80" stroke-width="1.2"/>
<line x1="206.4" y1="320.4" x2="209.2" y2="320.4" stroke="#1f3f80" stroke-width="1.1"/>
<line x1="206.4" y1="326.4" x2="209.2" y2="326.4" stroke="#1f3f80" stroke-width="1.1"/>
<line x1="204.9" y1="323" x2="210.7" y2="323" stroke="#111" stroke-width="1.2"/>
<path d="M207.8 319.4L210.7 314.4L204.9 314.4Z" fill="#1f3f80"/>
<path d="M207.8 327L210.7 322L204.9 322Z" fill="#1f3f80"/>
<path d="M207.8 330.4L210.7 325.4L204.9 325.4Z" fill="#1f3f80"/>
<circle cx="220.4" cy="220.2" r="2.15" fill="#4a1466"/>
<text x="226.3" y="223.2" font-size="8.7" fill="#1a1a1a" text-anchor="start" textLength="12" lengthAdjust="spacingAndGlyphs" stroke="#1a1a1a" stroke-width="0.15">WT</text>
<rect x="218.25" y="233.45" width="4.3" height="4.3" fill="#ab0a30"/>
<text x="226.3" y="238.6" font-size="8.7" fill="#1a1a1a" text-anchor="start" textLength="23.6" lengthAdjust="spacingAndGlyphs" stroke="#1a1a1a" stroke-width="0.15">E203K</text>
<path d="M220.4 248.8L222.8 253.1L218 253.1Z" fill="#62ad3c"/>
<text x="226.3" y="254.2" font-size="8.7" fill="#1a1a1a" text-anchor="start" textLength="17.6" lengthAdjust="spacingAndGlyphs" stroke="#1a1a1a" stroke-width="0.15">F53L</text>
<path d="M220.4 268.6L222.8 264.3L218 264.3Z" fill="#1f3f80"/>
<text x="226.3" y="269.2" font-size="8.7" fill="#1a1a1a" text-anchor="start" textLength="20.5" lengthAdjust="spacingAndGlyphs" stroke="#1a1a1a" stroke-width="0.15">Q56P</text>
<text transform="translate(53.3,339.6) rotate(-90)" font-size="9.2" fill="#1a1a1a" text-anchor="end" textLength="27.7" lengthAdjust="spacingAndGlyphs" stroke="#1a1a1a" stroke-width="0.15">Vehicle</text>
<text transform="translate(62.4,339.6) rotate(-90)" font-size="9.2" fill="#1a1a1a" text-anchor="end" textLength="33" lengthAdjust="spacingAndGlyphs" stroke="#1a1a1a" stroke-width="0.15">Idelalisib</text>
<text transform="translate(71.5,339.6) rotate(-90)" font-size="9.2" fill="#1a1a1a" text-anchor="end" textLength="34" lengthAdjust="spacingAndGlyphs" stroke="#1a1a1a" stroke-width="0.15">CI - 1040</text>
<text transform="translate(80.7,339.6) rotate(-90)" font-size="9.2" fill="#1a1a1a" text-anchor="end" textLength="16.3" lengthAdjust="spacingAndGlyphs" stroke="#1a1a1a" stroke-width="0.15">SCH</text>
<text transform="translate(96.5,339.6) rotate(-90)" font-size="9.2" fill="#1a1a1a" text-anchor="end" textLength="27.7" lengthAdjust="spacingAndGlyphs" stroke="#1a1a1a" stroke-width="0.15">Vehicle</text>
<text transform="translate(105.9,339.6) rotate(-90)" font-size="9.2" fill="#1a1a1a" text-anchor="end" textLength="33" lengthAdjust="spacingAndGlyphs" stroke="#1a1a1a" stroke-width="0.15">Idelalisib</text>
<text transform="translate(115.1,339.6) rotate(-90)" font-size="9.2" fill="#1a1a1a" text-anchor="end" textLength="34" lengthAdjust="spacingAndGlyphs" stroke="#1a1a1a" stroke-width="0.15">CI - 1040</text>
<text transform="translate(124.1,339.6) rotate(-90)" font-size="9.2" fill="#1a1a1a" text-anchor="end" textLength="16.3" lengthAdjust="spacingAndGlyphs" stroke="#1a1a1a" stroke-width="0.15">SCH</text>
<text transform="translate(139.8,339.6) rotate(-90)" font-size="9.2" fill="#1a1a1a" text-anchor="end" textLength="27.7" lengthAdjust="spacingAndGlyphs" stroke="#1a1a1a" stroke-width="0.15">Vehicle</text>
<text transform="translate(149,339.6) rotate(-90)" font-size="9.2" fill="#1a1a1a" text-anchor="end" textLength="33" lengthAdjust="spacingAndGlyphs" stroke="#1a1a1a" stroke-width="0.15">Idelalisib</text>
<text transform="translate(158.4,339.6) rotate(-90)" font-size="9.2" fill="#1a1a1a" text-anchor="end" textLength="34" lengthAdjust="spacingAndGlyphs" stroke="#1a1a1a" stroke-width="0.15">CI - 1040</text>
<text transform="translate(167.8,339.6) rotate(-90)" font-size="9.2" fill="#1a1a1a" text-anchor="end" textLength="16.3" lengthAdjust="spacingAndGlyphs" stroke="#1a1a1a" stroke-width="0.15">SCH</text>
<text transform="translate(183,339.6) rotate(-90)" font-size="9.2" fill="#1a1a1a" text-anchor="end" textLength="27.7" lengthAdjust="spacingAndGlyphs" stroke="#1a1a1a" stroke-width="0.15">Vehicle</text>
<text transform="translate(192.4,339.6) rotate(-90)" font-size="9.2" fill="#1a1a1a" text-anchor="end" textLength="33" lengthAdjust="spacingAndGlyphs" stroke="#1a1a1a" stroke-width="0.15">Idelalisib</text>
<text transform="translate(201.9,339.6) rotate(-90)" font-size="9.2" fill="#1a1a1a" text-anchor="end" textLength="34" lengthAdjust="spacingAndGlyphs" stroke="#1a1a1a" stroke-width="0.15">CI - 1040</text>
<text transform="translate(211,339.6) rotate(-90)" font-size="9.2" fill="#1a1a1a" text-anchor="end" textLength="16.3" lengthAdjust="spacingAndGlyphs" stroke="#1a1a1a" stroke-width="0.15">SCH</text>
<line x1="39.8" y1="378.3" x2="216.3" y2="378.3" stroke="#111" stroke-width="1.2"/>
<text x="112.1" y="389.6" font-size="8.6" fill="#1a1a1a" text-anchor="start" textLength="32.3" lengthAdjust="spacingAndGlyphs" stroke="#1a1a1a" stroke-width="0.15">anti-IgM</text>
<text x="266.6" y="211.4" font-size="12.2" fill="#000" text-anchor="start" font-weight="bold" stroke="#000" stroke-width="0.4">C</text>
<text transform="translate(282.8,276.8) rotate(-90)" font-size="8.9" fill="#1a1a1a" text-anchor="middle" textLength="50" lengthAdjust="spacingAndGlyphs" stroke="#1a1a1a" stroke-width="0.15">pERK / HA-tag</text>
<line x1="301.5" y1="221.8" x2="301.5" y2="333" stroke="#111" stroke-width="1.6"/>
<line x1="300.8" y1="332.3" x2="463.3" y2="332.3" stroke="#111" stroke-width="1.5"/>
<line x1="298.3" y1="332.3" x2="301.5" y2="332.3" stroke="#222" stroke-width="1"/>
<text x="294.9" y="335.7" font-size="9.5" fill="#1a1a1a" text-anchor="end" textLength="4.5" lengthAdjust="spacingAndGlyphs" stroke="#1a1a1a" stroke-width="0.15">0</text>
<line x1="298.3" y1="310.8" x2="301.5" y2="310.8" stroke="#222" stroke-width="1"/>
<text x="294.9" y="314.2" font-size="9.5" fill="#1a1a1a" text-anchor="end" textLength="4.5" lengthAdjust="spacingAndGlyphs" stroke="#1a1a1a" stroke-width="0.15">1</text>
<line x1="298.3" y1="289.3" x2="301.5" y2="289.3" stroke="#222" stroke-width="1"/>
<text x="294.9" y="292.7" font-size="9.5" fill="#1a1a1a" text-anchor="end" textLength="4.5" lengthAdjust="spacingAndGlyphs" stroke="#1a1a1a" stroke-width="0.15">2</text>
<line x1="298.3" y1="267.8" x2="301.5" y2="267.8" stroke="#222" stroke-width="1"/>
<text x="294.9" y="271.2" font-size="9.5" fill="#1a1a1a" text-anchor="end" textLength="4.5" lengthAdjust="spacingAndGlyphs" stroke="#1a1a1a" stroke-width="0.15">3</text>
<line x1="298.3" y1="246.3" x2="301.5" y2="246.3" stroke="#222" stroke-width="1"/>
<text x="294.9" y="249.7" font-size="9.5" fill="#1a1a1a" text-anchor="end" textLength="4.5" lengthAdjust="spacingAndGlyphs" stroke="#1a1a1a" stroke-width="0.15">4</text>
<line x1="298.3" y1="224.8" x2="301.5" y2="224.8" stroke="#222" stroke-width="1"/>
<text x="294.9" y="228.2" font-size="9.5" fill="#1a1a1a" text-anchor="end" textLength="4.5" lengthAdjust="spacingAndGlyphs" stroke="#1a1a1a" stroke-width="0.15">5</text>
<line x1="309.2" y1="332.3" x2="309.2" y2="335.4" stroke="#222" stroke-width="1"/>
<line x1="320.4" y1="332.3" x2="320.4" y2="335.4" stroke="#222" stroke-width="1"/>
<line x1="331.6" y1="332.3" x2="331.6" y2="335.4" stroke="#222" stroke-width="1"/>
<line x1="350.4" y1="332.3" x2="350.4" y2="335.4" stroke="#222" stroke-width="1"/>
<line x1="361.5" y1="332.3" x2="361.5" y2="335.4" stroke="#222" stroke-width="1"/>
<line x1="371.9" y1="332.3" x2="371.9" y2="335.4" stroke="#222" stroke-width="1"/>
<line x1="391.5" y1="332.3" x2="391.5" y2="335.4" stroke="#222" stroke-width="1"/>
<line x1="402.7" y1="332.3" x2="402.7" y2="335.4" stroke="#222" stroke-width="1"/>
<line x1="414.2" y1="332.3" x2="414.2" y2="335.4" stroke="#222" stroke-width="1"/>
<line x1="432.5" y1="332.3" x2="432.5" y2="335.4" stroke="#222" stroke-width="1"/>
<line x1="444" y1="332.3" x2="444" y2="335.4" stroke="#222" stroke-width="1"/>
<line x1="455.2" y1="332.3" x2="455.2" y2="335.4" stroke="#222" stroke-width="1"/>
<line x1="316.1" y1="316.5" x2="335.3" y2="316.5" stroke="#444" stroke-width="1.3"/>
<path d="M322.25 310.8L322.25 314M320.86 311.6L323.64 313.2M320.86 313.2L323.64 311.6" stroke="#222" stroke-width="1.1" fill="none"/>
<path d="M325.7 310.8L325.7 314M324.31 311.6L327.09 313.2M324.31 313.2L327.09 311.6" stroke="#222" stroke-width="1.1" fill="none"/>
<path d="M329.15 310.8L329.15 314M327.76 311.6L330.54 313.2M327.76 313.2L330.54 311.6" stroke="#222" stroke-width="1.1" fill="none"/>
<line x1="357.3" y1="316.5" x2="375.8" y2="316.5" stroke="#444" stroke-width="1.3"/>
<path d="M363.1 310.8L363.1 314M361.71 311.6L364.49 313.2M361.71 313.2L364.49 311.6" stroke="#222" stroke-width="1.1" fill="none"/>
<path d="M366.55 310.8L366.55 314M365.16 311.6L367.94 313.2M365.16 313.2L367.94 311.6" stroke="#222" stroke-width="1.1" fill="none"/>
<path d="M370 310.8L370 314M368.61 311.6L371.39 313.2M368.61 313.2L371.39 311.6" stroke="#222" stroke-width="1.1" fill="none"/>
<line x1="398.5" y1="316.5" x2="417.5" y2="316.5" stroke="#444" stroke-width="1.3"/>
<path d="M404.55 310.8L404.55 314M403.16 311.6L405.94 313.2M403.16 313.2L405.94 311.6" stroke="#222" stroke-width="1.1" fill="none"/>
<path d="M408 310.8L408 314M406.61 311.6L409.39 313.2M406.61 313.2L409.39 311.6" stroke="#222" stroke-width="1.1" fill="none"/>
<path d="M411.45 310.8L411.45 314M410.06 311.6L412.84 313.2M410.06 313.2L412.84 311.6" stroke="#222" stroke-width="1.1" fill="none"/>
<line x1="439.8" y1="316.5" x2="458.8" y2="316.5" stroke="#444" stroke-width="1.3"/>
<path d="M445.85 310.8L445.85 314M444.46 311.6L447.24 313.2M444.46 313.2L447.24 311.6" stroke="#222" stroke-width="1.1" fill="none"/>
<path d="M449.3 310.8L449.3 314M447.91 311.6L450.69 313.2M447.91 313.2L450.69 311.6" stroke="#222" stroke-width="1.1" fill="none"/>
<path d="M452.75 310.8L452.75 314M451.36 311.6L454.14 313.2M451.36 313.2L454.14 311.6" stroke="#222" stroke-width="1.1" fill="none"/>
<line x1="309.2" y1="276.5" x2="309.2" y2="298.5" stroke="#4a1466" stroke-width="1.2"/>
<line x1="307.8" y1="276.5" x2="310.6" y2="276.5" stroke="#4a1466" stroke-width="1.1"/>
<line x1="307.8" y1="298.5" x2="310.6" y2="298.5" stroke="#4a1466" stroke-width="1.1"/>
<line x1="306.3" y1="287.4" x2="312.1" y2="287.4" stroke="#111" stroke-width="1.2"/>
<circle cx="309.2" cy="266.5" r="2.45" fill="#4a1466"/>
<circle cx="309.2" cy="292" r="2.45" fill="#4a1466"/>
<circle cx="309.2" cy="303.8" r="2.45" fill="#4a1466"/>
<line x1="317.5" y1="330.5" x2="323.3" y2="330.5" stroke="#111" stroke-width="1.2"/>
<circle cx="321.4" cy="329" r="2.45" fill="#4a1466"/>
<circle cx="319.4" cy="330.8" r="2.45" fill="#4a1466"/>
<circle cx="320.4" cy="331.6" r="2.45" fill="#4a1466"/>
<line x1="328.7" y1="330" x2="334.5" y2="330" stroke="#111" stroke-width="1.2"/>
<circle cx="332.8" cy="328.2" r="2.45" fill="#4a1466"/>
<circle cx="330.8" cy="330.4" r="2.45" fill="#4a1466"/>
<circle cx="331.6" cy="331.4" r="2.45" fill="#4a1466"/>
<line x1="350.4" y1="262" x2="350.4" y2="284.6" stroke="#ab0a30" stroke-width="1.2"/>
<line x1="349" y1="262" x2="351.8" y2="262" stroke="#ab0a30" stroke-width="1.1"/>
<line x1="349" y1="284.6" x2="351.8" y2="284.6" stroke="#ab0a30" stroke-width="1.1"/>
<line x1="347.5" y1="273.5" x2="353.3" y2="273.5" stroke="#111" stroke-width="1.2"/>
<rect x="347.85" y="247.75" width="5.1" height="5.1" fill="#ab0a30"/>
<rect x="347.85" y="279.25" width="5.1" height="5.1" fill="#ab0a30"/>
<rect x="347.85" y="286.95" width="5.1" height="5.1" fill="#ab0a30"/>
<line x1="358.6" y1="331.6" x2="364.4" y2="331.6" stroke="#111" stroke-width="1.2"/>
<rect x="357.75" y="329.05" width="5.1" height="5.1" fill="#ab0a30"/>
<rect x="360.15" y="329.05" width="5.1" height="5.1" fill="#ab0a30"/>
<rect x="358.95" y="329.05" width="5.1" height="5.1" fill="#ab0a30"/>
<line x1="369" y1="331.2" x2="374.8" y2="331.2" stroke="#111" stroke-width="1.2"/>
<rect x="368.35" y="328.45" width="5.1" height="5.1" fill="#ab0a30"/>
<rect x="370.35" y="328.05" width="5.1" height="5.1" fill="#ab0a30"/>
<rect x="369.35" y="329.05" width="5.1" height="5.1" fill="#ab0a30"/>
<line x1="391.5" y1="265" x2="391.5" y2="289" stroke="#62ad3c" stroke-width="1.2"/>
<line x1="390.1" y1="265" x2="392.9" y2="265" stroke="#62ad3c" stroke-width="1.1"/>
<line x1="390.1" y1="289" x2="392.9" y2="289" stroke="#62ad3c" stroke-width="1.1"/>
<line x1="388.6" y1="276.9" x2="394.4" y2="276.9" stroke="#111" stroke-width="1.2"/>
<path d="M391.5 252.6L394.4 257.6L388.6 257.6Z" fill="#62ad3c"/>
<path d="M391.5 275.7L394.4 280.7L388.6 280.7Z" fill="#62ad3c"/>
<path d="M391.5 294.9L394.4 299.9L388.6 299.9Z" fill="#62ad3c"/>
<line x1="399.8" y1="331.6" x2="405.6" y2="331.6" stroke="#111" stroke-width="1.2"/>
<path d="M401.5 328.8L404.4 333.8L398.6 333.8Z" fill="#62ad3c"/>
<path d="M403.9 328.8L406.8 333.8L401 333.8Z" fill="#62ad3c"/>
<path d="M402.7 328.8L405.6 333.8L399.8 333.8Z" fill="#62ad3c"/>
<line x1="411.3" y1="330.5" x2="417.1" y2="330.5" stroke="#111" stroke-width="1.2"/>
<path d="M414.2 326.2L417.1 331.2L411.3 331.2Z" fill="#62ad3c"/>
<path d="M413.2 328.2L416.1 333.2L410.3 333.2Z" fill="#62ad3c"/>
<path d="M414.2 328.8L417.1 333.8L411.3 333.8Z" fill="#62ad3c"/>
<line x1="432.5" y1="265" x2="432.5" y2="282.7" stroke="#1f3f80" stroke-width="1.2"/>
<line x1="431.1" y1="265" x2="433.9" y2="265" stroke="#1f3f80" stroke-width="1.1"/>
<line x1="431.1" y1="282.7" x2="433.9" y2="282.7" stroke="#1f3f80" stroke-width="1.1"/>
<line x1="429.6" y1="274.2" x2="435.4" y2="274.2" stroke="#111" stroke-width="1.2"/>
<path d="M432.5 257.8L435.4 252.8L429.6 252.8Z" fill="#1f3f80"/>
<path d="M432.5 284.1L435.4 279.1L429.6 279.1Z" fill="#1f3f80"/>
<path d="M432.5 288.6L435.4 283.6L429.6 283.6Z" fill="#1f3f80"/>
<line x1="441.1" y1="331.2" x2="446.9" y2="331.2" stroke="#111" stroke-width="1.2"/>
<path d="M442.8 333.8L445.7 328.8L439.9 328.8Z" fill="#1f3f80"/>
<path d="M445.2 333.8L448.1 328.8L442.3 328.8Z" fill="#1f3f80"/>
<path d="M444 334.2L446.9 329.2L441.1 329.2Z" fill="#1f3f80"/>
<line x1="452.3" y1="330.6" x2="458.1" y2="330.6" stroke="#111" stroke-width="1.2"/>
<path d="M454.2 333.2L457.1 328.2L451.3 328.2Z" fill="#1f3f80"/>
<path d="M456.2 332.8L459.1 327.8L453.3 327.8Z" fill="#1f3f80"/>
<path d="M455.2 334.2L458.1 329.2L452.3 329.2Z" fill="#1f3f80"/>
<circle cx="469.1" cy="226.3" r="2.15" fill="#4a1466"/>
<text x="474.6" y="229.3" font-size="8.7" fill="#1a1a1a" text-anchor="start" textLength="12" lengthAdjust="spacingAndGlyphs" stroke="#1a1a1a" stroke-width="0.15">WT</text>
<rect x="466.95" y="239.35" width="4.3" height="4.3" fill="#ab0a30"/>
<text x="474.6" y="244.5" font-size="8.7" fill="#1a1a1a" text-anchor="start" textLength="23.6" lengthAdjust="spacingAndGlyphs" stroke="#1a1a1a" stroke-width="0.15">E203K</text>
<path d="M469.1 255.1L471.5 259.4L466.7 259.4Z" fill="#62ad3c"/>
<text x="474.6" y="260.5" font-size="8.7" fill="#1a1a1a" text-anchor="start" textLength="17.6" lengthAdjust="spacingAndGlyphs" stroke="#1a1a1a" stroke-width="0.15">F53L</text>
<path d="M469.1 274.5L471.5 270.2L466.7 270.2Z" fill="#1f3f80"/>
<text x="474.6" y="275.1" font-size="8.7" fill="#1a1a1a" text-anchor="start" textLength="20.5" lengthAdjust="spacingAndGlyphs" stroke="#1a1a1a" stroke-width="0.15">Q56P</text>
<text transform="translate(312.4,339.2) rotate(-90)" font-size="9.2" fill="#1a1a1a" text-anchor="end" textLength="27.9" lengthAdjust="spacingAndGlyphs" stroke="#1a1a1a" stroke-width="0.15">Vehicle</text>
<text transform="translate(323.6,339.2) rotate(-90)" font-size="9.2" fill="#1a1a1a" text-anchor="end" textLength="80.5" lengthAdjust="spacingAndGlyphs" stroke="#1a1a1a" stroke-width="0.15">CI - 1040 + idelalisib</text>
<text transform="translate(334.8,339.2) rotate(-90)" font-size="9.2" fill="#1a1a1a" text-anchor="end" textLength="62.5" lengthAdjust="spacingAndGlyphs" stroke="#1a1a1a" stroke-width="0.15">SCH + idelalisib</text>
<text transform="translate(353.6,339.2) rotate(-90)" font-size="9.2" fill="#1a1a1a" text-anchor="end" textLength="27.9" lengthAdjust="spacingAndGlyphs" stroke="#1a1a1a" stroke-width="0.15">Vehicle</text>
<text transform="translate(364.7,339.2) rotate(-90)" font-size="9.2" fill="#1a1a1a" text-anchor="end" textLength="80.5" lengthAdjust="spacingAndGlyphs" stroke="#1a1a1a" stroke-width="0.15">CI - 1040 + idelalisib</text>
<text transform="translate(375.1,339.2) rotate(-90)" font-size="9.2" fill="#1a1a1a" text-anchor="end" textLength="62.5" lengthAdjust="spacingAndGlyphs" stroke="#1a1a1a" stroke-width="0.15">SCH + idelalisib</text>
<text transform="translate(394.7,339.2) rotate(-90)" font-size="9.2" fill="#1a1a1a" text-anchor="end" textLength="27.9" lengthAdjust="spacingAndGlyphs" stroke="#1a1a1a" stroke-width="0.15">Vehicle</text>
<text transform="translate(405.9,339.2) rotate(-90)" font-size="9.2" fill="#1a1a1a" text-anchor="end" textLength="80.5" lengthAdjust="spacingAndGlyphs" stroke="#1a1a1a" stroke-width="0.15">CI - 1040 + idelalisib</text>
<text transform="translate(417.4,339.2) rotate(-90)" font-size="9.2" fill="#1a1a1a" text-anchor="end" textLength="62.5" lengthAdjust="spacingAndGlyphs" stroke="#1a1a1a" stroke-width="0.15">SCH + idelalisib</text>
<text transform="translate(435.7,339.2) rotate(-90)" font-size="9.2" fill="#1a1a1a" text-anchor="end" textLength="27.9" lengthAdjust="spacingAndGlyphs" stroke="#1a1a1a" stroke-width="0.15">Vehicle</text>
<text transform="translate(447.2,339.2) rotate(-90)" font-size="9.2" fill="#1a1a1a" text-anchor="end" textLength="80.5" lengthAdjust="spacingAndGlyphs" stroke="#1a1a1a" stroke-width="0.15">CI - 1040 + idelalisib</text>
<text transform="translate(458.4,339.2) rotate(-90)" font-size="9.2" fill="#1a1a1a" text-anchor="end" textLength="62.5" lengthAdjust="spacingAndGlyphs" stroke="#1a1a1a" stroke-width="0.15">SCH + idelalisib</text>
<line x1="299.2" y1="423.4" x2="465.8" y2="423.4" stroke="#111" stroke-width="1.2"/>
<text x="366.3" y="434.7" font-size="8.6" fill="#1a1a1a" text-anchor="start" textLength="32.5" lengthAdjust="spacingAndGlyphs" stroke="#1a1a1a" stroke-width="0.15">anti-IgM</text>
<text x="8" y="463.2" font-size="12.2" fill="#000" text-anchor="start" font-weight="bold" stroke="#000" stroke-width="0.4">D</text>
<text transform="translate(25.2,526) rotate(-90)" font-size="8.9" fill="#1a1a1a" text-anchor="middle" textLength="48.7" lengthAdjust="spacingAndGlyphs" stroke="#1a1a1a" stroke-width="0.15">pAKT / HA-tag</text>
<line x1="43.7" y1="468.8" x2="43.7" y2="583.3" stroke="#111" stroke-width="1.6"/>
<line x1="43" y1="582.6" x2="210.2" y2="582.6" stroke="#111" stroke-width="1.5"/>
<line x1="40.5" y1="582.6" x2="43.7" y2="582.6" stroke="#222" stroke-width="1"/>
<text x="37.1" y="586" font-size="9.5" fill="#1a1a1a" text-anchor="end" textLength="4.5" lengthAdjust="spacingAndGlyphs" stroke="#1a1a1a" stroke-width="0.15">0</text>
<line x1="40.5" y1="560.42" x2="43.7" y2="560.42" stroke="#222" stroke-width="1"/>
<text x="37.1" y="563.82" font-size="9.5" fill="#1a1a1a" text-anchor="end" textLength="4.5" lengthAdjust="spacingAndGlyphs" stroke="#1a1a1a" stroke-width="0.15">1</text>
<line x1="40.5" y1="538.24" x2="43.7" y2="538.24" stroke="#222" stroke-width="1"/>
<text x="37.1" y="541.64" font-size="9.5" fill="#1a1a1a" text-anchor="end" textLength="4.5" lengthAdjust="spacingAndGlyphs" stroke="#1a1a1a" stroke-width="0.15">2</text>
<line x1="40.5" y1="516.06" x2="43.7" y2="516.06" stroke="#222" stroke-width="1"/>
<text x="37.1" y="519.46" font-size="9.5" fill="#1a1a1a" text-anchor="end" textLength="4.5" lengthAdjust="spacingAndGlyphs" stroke="#1a1a1a" stroke-width="0.15">3</text>
<line x1="40.5" y1="493.88" x2="43.7" y2="493.88" stroke="#222" stroke-width="1"/>
<text x="37.1" y="497.28" font-size="9.5" fill="#1a1a1a" text-anchor="end" textLength="4.5" lengthAdjust="spacingAndGlyphs" stroke="#1a1a1a" stroke-width="0.15">4</text>
<line x1="40.5" y1="471.7" x2="43.7" y2="471.7" stroke="#222" stroke-width="1"/>
<text x="37.1" y="475.1" font-size="9.5" fill="#1a1a1a" text-anchor="end" textLength="4.5" lengthAdjust="spacingAndGlyphs" stroke="#1a1a1a" stroke-width="0.15">5</text>
<line x1="49.8" y1="582.6" x2="49.8" y2="585.7" stroke="#222" stroke-width="1"/>
<line x1="58.6" y1="582.6" x2="58.6" y2="585.7" stroke="#222" stroke-width="1"/>
<line x1="67.7" y1="582.6" x2="67.7" y2="585.7" stroke="#222" stroke-width="1"/>
<line x1="76.8" y1="582.6" x2="76.8" y2="585.7" stroke="#222" stroke-width="1"/>
<line x1="91.7" y1="582.6" x2="91.7" y2="585.7" stroke="#222" stroke-width="1"/>
<line x1="101.1" y1="582.6" x2="101.1" y2="585.7" stroke="#222" stroke-width="1"/>
<line x1="109.9" y1="582.6" x2="109.9" y2="585.7" stroke="#222" stroke-width="1"/>
<line x1="119" y1="582.6" x2="119" y2="585.7" stroke="#222" stroke-width="1"/>
<line x1="134" y1="582.6" x2="134" y2="585.7" stroke="#222" stroke-width="1"/>
<line x1="143.2" y1="582.6" x2="143.2" y2="585.7" stroke="#222" stroke-width="1"/>
<line x1="152" y1="582.6" x2="152" y2="585.7" stroke="#222" stroke-width="1"/>
<line x1="161.2" y1="582.6" x2="161.2" y2="585.7" stroke="#222" stroke-width="1"/>
<line x1="176" y1="582.6" x2="176" y2="585.7" stroke="#222" stroke-width="1"/>
<line x1="185.2" y1="582.6" x2="185.2" y2="585.7" stroke="#222" stroke-width="1"/>
<line x1="194.2" y1="582.6" x2="194.2" y2="585.7" stroke="#222" stroke-width="1"/>
<line x1="203.5" y1="582.6" x2="203.5" y2="585.7" stroke="#222" stroke-width="1"/>
<line x1="50.8" y1="487.6" x2="64.9" y2="487.6" stroke="#444" stroke-width="1.3"/>
<path d="M54.4 481.9L54.4 485.1M53.01 482.7L55.79 484.3M53.01 484.3L55.79 482.7" stroke="#222" stroke-width="1.1" fill="none"/>
<path d="M57.85 481.9L57.85 485.1M56.46 482.7L59.24 484.3M56.46 484.3L59.24 482.7" stroke="#222" stroke-width="1.1" fill="none"/>
<path d="M61.3 481.9L61.3 485.1M59.91 482.7L62.69 484.3M59.91 484.3L62.69 482.7" stroke="#222" stroke-width="1.1" fill="none"/>
<line x1="93.6" y1="487.8" x2="107.7" y2="487.8" stroke="#444" stroke-width="1.3"/>
<path d="M97.2 482.1L97.2 485.3M95.81 482.9L98.59 484.5M95.81 484.5L98.59 482.9" stroke="#222" stroke-width="1.1" fill="none"/>
<path d="M100.65 482.1L100.65 485.3M99.26 482.9L102.04 484.5M99.26 484.5L102.04 482.9" stroke="#222" stroke-width="1.1" fill="none"/>
<path d="M104.1 482.1L104.1 485.3M102.71 482.9L105.49 484.5M102.71 484.5L105.49 482.9" stroke="#222" stroke-width="1.1" fill="none"/>
<line x1="135.8" y1="487.8" x2="149.5" y2="487.8" stroke="#444" stroke-width="1.3"/>
<path d="M139.2 482.1L139.2 485.3M137.81 482.9L140.59 484.5M137.81 484.5L140.59 482.9" stroke="#222" stroke-width="1.1" fill="none"/>
<path d="M142.65 482.1L142.65 485.3M141.26 482.9L144.04 484.5M141.26 484.5L144.04 482.9" stroke="#222" stroke-width="1.1" fill="none"/>
<path d="M146.1 482.1L146.1 485.3M144.71 482.9L147.49 484.5M144.71 484.5L147.49 482.9" stroke="#222" stroke-width="1.1" fill="none"/>
<line x1="178.1" y1="487.9" x2="192.3" y2="487.9" stroke="#444" stroke-width="1.3"/>
<path d="M181.75 482.2L181.75 485.4M180.36 483L183.14 484.6M180.36 484.6L183.14 483" stroke="#222" stroke-width="1.1" fill="none"/>
<path d="M185.2 482.2L185.2 485.4M183.81 483L186.59 484.6M183.81 484.6L186.59 483" stroke="#222" stroke-width="1.1" fill="none"/>
<path d="M188.65 482.2L188.65 485.4M187.26 483L190.04 484.6M187.26 484.6L190.04 483" stroke="#222" stroke-width="1.1" fill="none"/>
<line x1="46.9" y1="559.2" x2="52.7" y2="559.2" stroke="#111" stroke-width="1.2"/>
<circle cx="49.8" cy="555.1" r="2.45" fill="#4a1466"/>
<circle cx="51.6" cy="559.5" r="2.45" fill="#4a1466"/>
<circle cx="49.8" cy="562.9" r="2.45" fill="#4a1466"/>
<line x1="55.7" y1="582" x2="61.5" y2="582" stroke="#111" stroke-width="1.2"/>
<circle cx="58.1" cy="582" r="2.45" fill="#4a1466"/>
<circle cx="59.1" cy="582" r="2.45" fill="#4a1466"/>
<circle cx="58.6" cy="582" r="2.45" fill="#4a1466"/>
<line x1="67.7" y1="552.9" x2="67.7" y2="570.3" stroke="#4a1466" stroke-width="1.2"/>
<line x1="66.3" y1="552.9" x2="69.1" y2="552.9" stroke="#4a1466" stroke-width="1.1"/>
<line x1="66.3" y1="570.3" x2="69.1" y2="570.3" stroke="#4a1466" stroke-width="1.1"/>
<line x1="64.8" y1="562" x2="70.6" y2="562" stroke="#111" stroke-width="1.2"/>
<circle cx="67.7" cy="546.3" r="2.45" fill="#4a1466"/>
<circle cx="67.7" cy="563.7" r="2.45" fill="#4a1466"/>
<circle cx="67.7" cy="576.1" r="2.45" fill="#4a1466"/>
<line x1="76.8" y1="553.5" x2="76.8" y2="561" stroke="#4a1466" stroke-width="1.2"/>
<line x1="75.4" y1="553.5" x2="78.2" y2="553.5" stroke="#4a1466" stroke-width="1.1"/>
<line x1="75.4" y1="561" x2="78.2" y2="561" stroke="#4a1466" stroke-width="1.1"/>
<line x1="73.9" y1="557.2" x2="79.7" y2="557.2" stroke="#111" stroke-width="1.2"/>
<circle cx="76.8" cy="551.2" r="2.45" fill="#4a1466"/>
<circle cx="78.2" cy="557.9" r="2.45" fill="#4a1466"/>
<circle cx="76.8" cy="562.5" r="2.45" fill="#4a1466"/>
<line x1="91.7" y1="510.3" x2="91.7" y2="555.4" stroke="#ab0a30" stroke-width="1.2"/>
<line x1="90.3" y1="510.3" x2="93.1" y2="510.3" stroke="#ab0a30" stroke-width="1.1"/>
<line x1="90.3" y1="555.4" x2="93.1" y2="555.4" stroke="#ab0a30" stroke-width="1.1"/>
<line x1="88.8" y1="532.5" x2="94.6" y2="532.5" stroke="#111" stroke-width="1.2"/>
<rect x="89.15" y="491.85" width="5.1" height="5.1" fill="#ab0a30"/>
<rect x="89.15" y="529.95" width="5.1" height="5.1" fill="#ab0a30"/>
<rect x="89.15" y="569.45" width="5.1" height="5.1" fill="#ab0a30"/>
<line x1="98.2" y1="582" x2="104" y2="582" stroke="#111" stroke-width="1.2"/>
<rect x="97.35" y="579.45" width="5.1" height="5.1" fill="#ab0a30"/>
<rect x="99.75" y="579.45" width="5.1" height="5.1" fill="#ab0a30"/>
<rect x="98.55" y="579.45" width="5.1" height="5.1" fill="#ab0a30"/>
<line x1="109.9" y1="534.7" x2="109.9" y2="565.3" stroke="#ab0a30" stroke-width="1.2"/>
<line x1="108.5" y1="534.7" x2="111.3" y2="534.7" stroke="#ab0a30" stroke-width="1.1"/>
<line x1="108.5" y1="565.3" x2="111.3" y2="565.3" stroke="#ab0a30" stroke-width="1.1"/>
<line x1="107" y1="551.6" x2="112.8" y2="551.6" stroke="#111" stroke-width="1.2"/>
<rect x="107.35" y="532.15" width="5.1" height="5.1" fill="#ab0a30"/>
<rect x="107.35" y="538.25" width="5.1" height="5.1" fill="#ab0a30"/>
<rect x="107.35" y="576.55" width="5.1" height="5.1" fill="#ab0a30"/>
<line x1="119" y1="515.1" x2="119" y2="559.2" stroke="#ab0a30" stroke-width="1.2"/>
<line x1="117.6" y1="515.1" x2="120.4" y2="515.1" stroke="#ab0a30" stroke-width="1.1"/>
<line x1="117.6" y1="559.2" x2="120.4" y2="559.2" stroke="#ab0a30" stroke-width="1.1"/>
<line x1="116.1" y1="536.7" x2="121.9" y2="536.7" stroke="#111" stroke-width="1.2"/>
<rect x="116.45" y="496.45" width="5.1" height="5.1" fill="#ab0a30"/>
<rect x="116.45" y="533.75" width="5.1" height="5.1" fill="#ab0a30"/>
<rect x="116.45" y="573.55" width="5.1" height="5.1" fill="#ab0a30"/>
<line x1="134" y1="541.8" x2="134" y2="568.6" stroke="#62ad3c" stroke-width="1.2"/>
<line x1="132.6" y1="541.8" x2="135.4" y2="541.8" stroke="#62ad3c" stroke-width="1.1"/>
<line x1="132.6" y1="568.6" x2="135.4" y2="568.6" stroke="#62ad3c" stroke-width="1.1"/>
<line x1="131.1" y1="555.4" x2="136.9" y2="555.4" stroke="#111" stroke-width="1.2"/>
<path d="M134 529.9L136.9 534.9L131.1 534.9Z" fill="#62ad3c"/>
<path d="M134 552.6L136.9 557.6L131.1 557.6Z" fill="#62ad3c"/>
<path d="M134 576.3L136.9 581.3L131.1 581.3Z" fill="#62ad3c"/>
<line x1="140.3" y1="582" x2="146.1" y2="582" stroke="#111" stroke-width="1.2"/>
<path d="M142.2 579.2L145.1 584.2L139.3 584.2Z" fill="#62ad3c"/>
<path d="M144.2 579.2L147.1 584.2L141.3 584.2Z" fill="#62ad3c"/>
<path d="M143.2 579.2L146.1 584.2L140.3 584.2Z" fill="#62ad3c"/>
<line x1="152" y1="549.9" x2="152" y2="573.6" stroke="#62ad3c" stroke-width="1.2"/>
<line x1="150.6" y1="549.9" x2="153.4" y2="549.9" stroke="#62ad3c" stroke-width="1.1"/>
<line x1="150.6" y1="573.6" x2="153.4" y2="573.6" stroke="#62ad3c" stroke-width="1.1"/>
<line x1="149.1" y1="561.7" x2="154.9" y2="561.7" stroke="#111" stroke-width="1.2"/>
<path d="M152 536L154.9 541L149.1 541Z" fill="#62ad3c"/>
<path d="M152 564.2L154.9 569.2L149.1 569.2Z" fill="#62ad3c"/>
<path d="M152 576.6L154.9 581.6L149.1 581.6Z" fill="#62ad3c"/>
<line x1="161.2" y1="521.7" x2="161.2" y2="560.4" stroke="#62ad3c" stroke-width="1.2"/>
<line x1="159.8" y1="521.7" x2="162.6" y2="521.7" stroke="#62ad3c" stroke-width="1.1"/>
<line x1="159.8" y1="560.4" x2="162.6" y2="560.4" stroke="#62ad3c" stroke-width="1.1"/>
<line x1="158.3" y1="540.8" x2="164.1" y2="540.8" stroke="#111" stroke-width="1.2"/>
<path d="M161.2 513.6L164.1 518.6L158.3 518.6Z" fill="#62ad3c"/>
<path d="M161.2 525.2L164.1 530.2L158.3 530.2Z" fill="#62ad3c"/>
<path d="M161.2 576.3L164.1 581.3L158.3 581.3Z" fill="#62ad3c"/>
<line x1="176" y1="535.5" x2="176" y2="548.8" stroke="#1f3f80" stroke-width="1.2"/>
<line x1="174.6" y1="535.5" x2="177.4" y2="535.5" stroke="#1f3f80" stroke-width="1.1"/>
<line x1="174.6" y1="548.8" x2="177.4" y2="548.8" stroke="#1f3f80" stroke-width="1.1"/>
<line x1="173.1" y1="542.4" x2="178.9" y2="542.4" stroke="#111" stroke-width="1.2"/>
<path d="M176 534.3L178.9 529.3L173.1 529.3Z" fill="#1f3f80"/>
<path d="M176 539.7L178.9 534.7L173.1 534.7Z" fill="#1f3f80"/>
<path d="M176 557.2L178.9 552.2L173.1 552.2Z" fill="#1f3f80"/>
<line x1="182.3" y1="581.6" x2="188.1" y2="581.6" stroke="#111" stroke-width="1.2"/>
<path d="M184.2 584.4L187.1 579.4L181.3 579.4Z" fill="#1f3f80"/>
<path d="M186.2 584.4L189.1 579.4L183.3 579.4Z" fill="#1f3f80"/>
<path d="M185.2 584.4L188.1 579.4L182.3 579.4Z" fill="#1f3f80"/>
<line x1="194.2" y1="546" x2="194.2" y2="554" stroke="#1f3f80" stroke-width="1.2"/>
<line x1="192.8" y1="546" x2="195.6" y2="546" stroke="#1f3f80" stroke-width="1.1"/>
<line x1="192.8" y1="554" x2="195.6" y2="554" stroke="#1f3f80" stroke-width="1.1"/>
<line x1="191.3" y1="550.4" x2="197.1" y2="550.4" stroke="#111" stroke-width="1.2"/>
<path d="M194.2 547.4L197.1 542.4L191.3 542.4Z" fill="#1f3f80"/>
<path d="M194.2 550.3L197.1 545.3L191.3 545.3Z" fill="#1f3f80"/>
<path d="M194.2 559.9L197.1 554.9L191.3 554.9Z" fill="#1f3f80"/>
<line x1="203.5" y1="522.5" x2="203.5" y2="535" stroke="#1f3f80" stroke-width="1.2"/>
<line x1="202.1" y1="522.5" x2="204.9" y2="522.5" stroke="#1f3f80" stroke-width="1.1"/>
<line x1="202.1" y1="535" x2="204.9" y2="535" stroke="#1f3f80" stroke-width="1.1"/>
<line x1="200.6" y1="529.2" x2="206.4" y2="529.2" stroke="#111" stroke-width="1.2"/>
<path d="M203.5 518.6L206.4 513.6L200.6 513.6Z" fill="#1f3f80"/>
<path d="M203.5 534.9L206.4 529.9L200.6 529.9Z" fill="#1f3f80"/>
<path d="M203.5 540.7L206.4 535.7L200.6 535.7Z" fill="#1f3f80"/>
<circle cx="215.6" cy="473.5" r="2.15" fill="#4a1466"/>
<text x="221.3" y="476.5" font-size="8.7" fill="#1a1a1a" text-anchor="start" textLength="12" lengthAdjust="spacingAndGlyphs" stroke="#1a1a1a" stroke-width="0.15">WT</text>
<rect x="213.45" y="486.65" width="4.3" height="4.3" fill="#ab0a30"/>
<text x="221.3" y="491.8" font-size="8.7" fill="#1a1a1a" text-anchor="start" textLength="23.6" lengthAdjust="spacingAndGlyphs" stroke="#1a1a1a" stroke-width="0.15">E203K</text>
<path d="M215.6 502.2L218 506.5L213.2 506.5Z" fill="#62ad3c"/>
<text x="221.3" y="507.6" font-size="8.7" fill="#1a1a1a" text-anchor="start" textLength="17.6" lengthAdjust="spacingAndGlyphs" stroke="#1a1a1a" stroke-width="0.15">F53L</text>
<path d="M215.6 521.6L218 517.3L213.2 517.3Z" fill="#1f3f80"/>
<text x="221.3" y="522.2" font-size="8.7" fill="#1a1a1a" text-anchor="start" textLength="20.5" lengthAdjust="spacingAndGlyphs" stroke="#1a1a1a" stroke-width="0.15">Q56P</text>
<text transform="translate(53,589.5) rotate(-90)" font-size="9.2" fill="#1a1a1a" text-anchor="end" textLength="28.6" lengthAdjust="spacingAndGlyphs" stroke="#1a1a1a" stroke-width="0.15">Vehicle</text>
<text transform="translate(61.8,589.5) rotate(-90)" font-size="9.2" fill="#1a1a1a" text-anchor="end" textLength="34" lengthAdjust="spacingAndGlyphs" stroke="#1a1a1a" stroke-width="0.15">Idelalisib</text>
<text transform="translate(70.9,589.5) rotate(-90)" font-size="9.2" fill="#1a1a1a" text-anchor="end" textLength="35" lengthAdjust="spacingAndGlyphs" stroke="#1a1a1a" stroke-width="0.15">CI - 1040</text>
<text transform="translate(80,589.5) rotate(-90)" font-size="9.2" fill="#1a1a1a" text-anchor="end" textLength="17.3" lengthAdjust="spacingAndGlyphs" stroke="#1a1a1a" stroke-width="0.15">SCH</text>
<text transform="translate(94.9,589.5) rotate(-90)" font-size="9.2" fill="#1a1a1a" text-anchor="end" textLength="28.6" lengthAdjust="spacingAndGlyphs" stroke="#1a1a1a" stroke-width="0.15">Vehicle</text>
<text transform="translate(104.3,589.5) rotate(-90)" font-size="9.2" fill="#1a1a1a" text-anchor="end" textLength="34" lengthAdjust="spacingAndGlyphs" stroke="#1a1a1a" stroke-width="0.15">Idelalisib</text>
<text transform="translate(113.1,589.5) rotate(-90)" font-size="9.2" fill="#1a1a1a" text-anchor="end" textLength="35" lengthAdjust="spacingAndGlyphs" stroke="#1a1a1a" stroke-width="0.15">CI - 1040</text>
<text transform="translate(122.2,589.5) rotate(-90)" font-size="9.2" fill="#1a1a1a" text-anchor="end" textLength="17.3" lengthAdjust="spacingAndGlyphs" stroke="#1a1a1a" stroke-width="0.15">SCH</text>
<text transform="translate(137.2,589.5) rotate(-90)" font-size="9.2" fill="#1a1a1a" text-anchor="end" textLength="28.6" lengthAdjust="spacingAndGlyphs" stroke="#1a1a1a" stroke-width="0.15">Vehicle</text>
<text transform="translate(146.4,589.5) rotate(-90)" font-size="9.2" fill="#1a1a1a" text-anchor="end" textLength="34" lengthAdjust="spacingAndGlyphs" stroke="#1a1a1a" stroke-width="0.15">Idelalisib</text>
<text transform="translate(155.2,589.5) rotate(-90)" font-size="9.2" fill="#1a1a1a" text-anchor="end" textLength="35" lengthAdjust="spacingAndGlyphs" stroke="#1a1a1a" stroke-width="0.15">CI - 1040</text>
<text transform="translate(164.4,589.5) rotate(-90)" font-size="9.2" fill="#1a1a1a" text-anchor="end" textLength="17.3" lengthAdjust="spacingAndGlyphs" stroke="#1a1a1a" stroke-width="0.15">SCH</text>
<text transform="translate(179.2,589.5) rotate(-90)" font-size="9.2" fill="#1a1a1a" text-anchor="end" textLength="28.6" lengthAdjust="spacingAndGlyphs" stroke="#1a1a1a" stroke-width="0.15">Vehicle</text>
<text transform="translate(188.4,589.5) rotate(-90)" font-size="9.2" fill="#1a1a1a" text-anchor="end" textLength="34" lengthAdjust="spacingAndGlyphs" stroke="#1a1a1a" stroke-width="0.15">Idelalisib</text>
<text transform="translate(197.4,589.5) rotate(-90)" font-size="9.2" fill="#1a1a1a" text-anchor="end" textLength="35" lengthAdjust="spacingAndGlyphs" stroke="#1a1a1a" stroke-width="0.15">CI - 1040</text>
<text transform="translate(206.7,589.5) rotate(-90)" font-size="9.2" fill="#1a1a1a" text-anchor="end" textLength="17.3" lengthAdjust="spacingAndGlyphs" stroke="#1a1a1a" stroke-width="0.15">SCH</text>
<line x1="40.1" y1="628.2" x2="211.2" y2="628.2" stroke="#111" stroke-width="1.2"/>
<text x="109.4" y="639" font-size="8.6" fill="#1a1a1a" text-anchor="start" textLength="33.1" lengthAdjust="spacingAndGlyphs" stroke="#1a1a1a" stroke-width="0.15">anti-IgM</text>
<text x="267.6" y="463.2" font-size="12.2" fill="#000" text-anchor="start" font-weight="bold" stroke="#000" stroke-width="0.4">E</text>
<text transform="translate(282.8,526.7) rotate(-90)" font-size="8.9" fill="#1a1a1a" text-anchor="middle" textLength="48.7" lengthAdjust="spacingAndGlyphs" stroke="#1a1a1a" stroke-width="0.15">pAKT / HA-tag</text>
<line x1="301.6" y1="468.5" x2="301.6" y2="583" stroke="#111" stroke-width="1.6"/>
<line x1="300.9" y1="582.3" x2="468.5" y2="582.3" stroke="#111" stroke-width="1.5"/>
<line x1="298.4" y1="582.3" x2="301.6" y2="582.3" stroke="#222" stroke-width="1"/>
<text x="295" y="585.7" font-size="9.5" fill="#1a1a1a" text-anchor="end" textLength="4.5" lengthAdjust="spacingAndGlyphs" stroke="#1a1a1a" stroke-width="0.15">0</text>
<line x1="298.4" y1="560.1" x2="301.6" y2="560.1" stroke="#222" stroke-width="1"/>
<text x="295" y="563.5" font-size="9.5" fill="#1a1a1a" text-anchor="end" textLength="4.5" lengthAdjust="spacingAndGlyphs" stroke="#1a1a1a" stroke-width="0.15">1</text>
<line x1="298.4" y1="537.9" x2="301.6" y2="537.9" stroke="#222" stroke-width="1"/>
<text x="295" y="541.3" font-size="9.5" fill="#1a1a1a" text-anchor="end" textLength="4.5" lengthAdjust="spacingAndGlyphs" stroke="#1a1a1a" stroke-width="0.15">2</text>
<line x1="298.4" y1="515.7" x2="301.6" y2="515.7" stroke="#222" stroke-width="1"/>
<text x="295" y="519.1" font-size="9.5" fill="#1a1a1a" text-anchor="end" textLength="4.5" lengthAdjust="spacingAndGlyphs" stroke="#1a1a1a" stroke-width="0.15">3</text>
<line x1="298.4" y1="493.5" x2="301.6" y2="493.5" stroke="#222" stroke-width="1"/>
<text x="295" y="496.9" font-size="9.5" fill="#1a1a1a" text-anchor="end" textLength="4.5" lengthAdjust="spacingAndGlyphs" stroke="#1a1a1a" stroke-width="0.15">4</text>
<line x1="298.4" y1="471.3" x2="301.6" y2="471.3" stroke="#222" stroke-width="1"/>
<text x="295" y="474.7" font-size="9.5" fill="#1a1a1a" text-anchor="end" textLength="4.5" lengthAdjust="spacingAndGlyphs" stroke="#1a1a1a" stroke-width="0.15">5</text>
<line x1="309.2" y1="582.3" x2="309.2" y2="585.4" stroke="#222" stroke-width="1"/>
<line x1="321" y1="582.3" x2="321" y2="585.4" stroke="#222" stroke-width="1"/>
<line x1="332.7" y1="582.3" x2="332.7" y2="585.4" stroke="#222" stroke-width="1"/>
<line x1="352.1" y1="582.3" x2="352.1" y2="585.4" stroke="#222" stroke-width="1"/>
<line x1="363.7" y1="582.3" x2="363.7" y2="585.4" stroke="#222" stroke-width="1"/>
<line x1="375.4" y1="582.3" x2="375.4" y2="585.4" stroke="#222" stroke-width="1"/>
<line x1="394.4" y1="582.3" x2="394.4" y2="585.4" stroke="#222" stroke-width="1"/>
<line x1="406.2" y1="582.3" x2="406.2" y2="585.4" stroke="#222" stroke-width="1"/>
<line x1="417.7" y1="582.3" x2="417.7" y2="585.4" stroke="#222" stroke-width="1"/>
<line x1="436.9" y1="582.3" x2="436.9" y2="585.4" stroke="#222" stroke-width="1"/>
<line x1="448.5" y1="582.3" x2="448.5" y2="585.4" stroke="#222" stroke-width="1"/>
<line x1="460.4" y1="582.3" x2="460.4" y2="585.4" stroke="#222" stroke-width="1"/>
<line x1="316.5" y1="566.1" x2="336.4" y2="566.1" stroke="#444" stroke-width="1.3"/>
<path d="M323 560.4L323 563.6M321.61 561.2L324.39 562.8M321.61 562.8L324.39 561.2" stroke="#222" stroke-width="1.1" fill="none"/>
<path d="M326.45 560.4L326.45 563.6M325.06 561.2L327.84 562.8M325.06 562.8L327.84 561.2" stroke="#222" stroke-width="1.1" fill="none"/>
<path d="M329.9 560.4L329.9 563.6M328.51 561.2L331.29 562.8M328.51 562.8L331.29 561.2" stroke="#222" stroke-width="1.1" fill="none"/>
<line x1="359.2" y1="566.2" x2="378.7" y2="566.2" stroke="#444" stroke-width="1.3"/>
<path d="M365.5 560.5L365.5 563.7M364.11 561.3L366.89 562.9M364.11 562.9L366.89 561.3" stroke="#222" stroke-width="1.1" fill="none"/>
<path d="M368.95 560.5L368.95 563.7M367.56 561.3L370.34 562.9M367.56 562.9L370.34 561.3" stroke="#222" stroke-width="1.1" fill="none"/>
<path d="M372.4 560.5L372.4 563.7M371.01 561.3L373.79 562.9M371.01 562.9L373.79 561.3" stroke="#222" stroke-width="1.1" fill="none"/>
<line x1="401.7" y1="566.2" x2="421.5" y2="566.2" stroke="#444" stroke-width="1.3"/>
<path d="M408.15 560.5L408.15 563.7M406.76 561.3L409.54 562.9M406.76 562.9L409.54 561.3" stroke="#222" stroke-width="1.1" fill="none"/>
<path d="M411.6 560.5L411.6 563.7M410.21 561.3L412.99 562.9M410.21 562.9L412.99 561.3" stroke="#222" stroke-width="1.1" fill="none"/>
<path d="M415.05 560.5L415.05 563.7M413.66 561.3L416.44 562.9M413.66 562.9L416.44 561.3" stroke="#222" stroke-width="1.1" fill="none"/>
<line x1="444.6" y1="566.2" x2="464.2" y2="566.2" stroke="#444" stroke-width="1.3"/>
<path d="M450.95 560.5L450.95 563.7M449.56 561.3L452.34 562.9M449.56 562.9L452.34 561.3" stroke="#222" stroke-width="1.1" fill="none"/>
<path d="M454.4 560.5L454.4 563.7M453.01 561.3L455.79 562.9M453.01 562.9L455.79 561.3" stroke="#222" stroke-width="1.1" fill="none"/>
<path d="M457.85 560.5L457.85 563.7M456.46 561.3L459.24 562.9M456.46 562.9L459.24 561.3" stroke="#222" stroke-width="1.1" fill="none"/>
<line x1="306.3" y1="559.5" x2="312.1" y2="559.5" stroke="#111" stroke-width="1.2"/>
<circle cx="309.2" cy="555" r="2.45" fill="#4a1466"/>
<circle cx="311.2" cy="559.5" r="2.45" fill="#4a1466"/>
<circle cx="307.7" cy="562.8" r="2.45" fill="#4a1466"/>
<line x1="318.1" y1="581.6" x2="323.9" y2="581.6" stroke="#111" stroke-width="1.2"/>
<circle cx="319.8" cy="581.6" r="2.45" fill="#4a1466"/>
<circle cx="322.2" cy="581.6" r="2.45" fill="#4a1466"/>
<circle cx="321" cy="581.6" r="2.45" fill="#4a1466"/>
<line x1="329.8" y1="581.6" x2="335.6" y2="581.6" stroke="#111" stroke-width="1.2"/>
<circle cx="331.5" cy="581.6" r="2.45" fill="#4a1466"/>
<circle cx="333.9" cy="581.6" r="2.45" fill="#4a1466"/>
<circle cx="332.7" cy="581.6" r="2.45" fill="#4a1466"/>
<line x1="352.1" y1="510.3" x2="352.1" y2="555.3" stroke="#ab0a30" stroke-width="1.2"/>
<line x1="350.7" y1="510.3" x2="353.5" y2="510.3" stroke="#ab0a30" stroke-width="1.1"/>
<line x1="350.7" y1="555.3" x2="353.5" y2="555.3" stroke="#ab0a30" stroke-width="1.1"/>
<line x1="349.2" y1="532.6" x2="355" y2="532.6" stroke="#111" stroke-width="1.2"/>
<rect x="349.55" y="491.15" width="5.1" height="5.1" fill="#ab0a30"/>
<rect x="349.55" y="529.65" width="5.1" height="5.1" fill="#ab0a30"/>
<rect x="349.55" y="569.35" width="5.1" height="5.1" fill="#ab0a30"/>
<line x1="360.8" y1="581.6" x2="366.6" y2="581.6" stroke="#111" stroke-width="1.2"/>
<rect x="359.95" y="579.05" width="5.1" height="5.1" fill="#ab0a30"/>
<rect x="362.35" y="579.05" width="5.1" height="5.1" fill="#ab0a30"/>
<rect x="361.15" y="579.05" width="5.1" height="5.1" fill="#ab0a30"/>
<line x1="372.5" y1="581.6" x2="378.3" y2="581.6" stroke="#111" stroke-width="1.2"/>
<rect x="371.65" y="579.05" width="5.1" height="5.1" fill="#ab0a30"/>
<rect x="374.05" y="579.05" width="5.1" height="5.1" fill="#ab0a30"/>
<rect x="372.85" y="579.05" width="5.1" height="5.1" fill="#ab0a30"/>
<line x1="394.4" y1="541.5" x2="394.4" y2="568.5" stroke="#62ad3c" stroke-width="1.2"/>
<line x1="393" y1="541.5" x2="395.8" y2="541.5" stroke="#62ad3c" stroke-width="1.1"/>
<line x1="393" y1="568.5" x2="395.8" y2="568.5" stroke="#62ad3c" stroke-width="1.1"/>
<line x1="391.5" y1="555.4" x2="397.3" y2="555.4" stroke="#111" stroke-width="1.2"/>
<path d="M394.4 529.1L397.3 534.1L391.5 534.1Z" fill="#62ad3c"/>
<path d="M394.4 552.6L397.3 557.6L391.5 557.6Z" fill="#62ad3c"/>
<path d="M394.4 576.2L397.3 581.2L391.5 581.2Z" fill="#62ad3c"/>
<line x1="403.3" y1="581.6" x2="409.1" y2="581.6" stroke="#111" stroke-width="1.2"/>
<path d="M405 578.8L407.9 583.8L402.1 583.8Z" fill="#62ad3c"/>
<path d="M407.4 578.8L410.3 583.8L404.5 583.8Z" fill="#62ad3c"/>
<path d="M406.2 578.8L409.1 583.8L403.3 583.8Z" fill="#62ad3c"/>
<line x1="414.8" y1="581.6" x2="420.6" y2="581.6" stroke="#111" stroke-width="1.2"/>
<path d="M416.5 578.8L419.4 583.8L413.6 583.8Z" fill="#62ad3c"/>
<path d="M418.9 578.8L421.8 583.8L416 583.8Z" fill="#62ad3c"/>
<path d="M417.7 578.8L420.6 583.8L414.8 583.8Z" fill="#62ad3c"/>
<line x1="436.9" y1="535.8" x2="436.9" y2="548.3" stroke="#1f3f80" stroke-width="1.2"/>
<line x1="435.5" y1="535.8" x2="438.3" y2="535.8" stroke="#1f3f80" stroke-width="1.1"/>
<line x1="435.5" y1="548.3" x2="438.3" y2="548.3" stroke="#1f3f80" stroke-width="1.1"/>
<line x1="434" y1="542.1" x2="439.8" y2="542.1" stroke="#111" stroke-width="1.2"/>
<path d="M436.9 534.3L439.8 529.3L434 529.3Z" fill="#1f3f80"/>
<path d="M436.9 541.5L439.8 536.5L434 536.5Z" fill="#1f3f80"/>
<path d="M436.9 556.8L439.8 551.8L434 551.8Z" fill="#1f3f80"/>
<line x1="445.6" y1="581.2" x2="451.4" y2="581.2" stroke="#111" stroke-width="1.2"/>
<path d="M447.3 584L450.2 579L444.4 579Z" fill="#1f3f80"/>
<path d="M449.7 584L452.6 579L446.8 579Z" fill="#1f3f80"/>
<path d="M448.5 584L451.4 579L445.6 579Z" fill="#1f3f80"/>
<line x1="457.5" y1="581.2" x2="463.3" y2="581.2" stroke="#111" stroke-width="1.2"/>
<path d="M459.2 584L462.1 579L456.3 579Z" fill="#1f3f80"/>
<path d="M461.6 584L464.5 579L458.7 579Z" fill="#1f3f80"/>
<path d="M460.4 584L463.3 579L457.5 579Z" fill="#1f3f80"/>
<circle cx="474.4" cy="472.7" r="2.15" fill="#4a1466"/>
<text x="480.4" y="475.7" font-size="8.7" fill="#1a1a1a" text-anchor="start" textLength="12" lengthAdjust="spacingAndGlyphs" stroke="#1a1a1a" stroke-width="0.15">WT</text>
<rect x="472.25" y="485.75" width="4.3" height="4.3" fill="#ab0a30"/>
<text x="480.4" y="490.9" font-size="8.7" fill="#1a1a1a" text-anchor="start" textLength="23.6" lengthAdjust="spacingAndGlyphs" stroke="#1a1a1a" stroke-width="0.15">E203K</text>
<path d="M474.4 501.3L476.8 505.6L472 505.6Z" fill="#62ad3c"/>
<text x="480.4" y="506.7" font-size="8.7" fill="#1a1a1a" text-anchor="start" textLength="17.6" lengthAdjust="spacingAndGlyphs" stroke="#1a1a1a" stroke-width="0.15">F53L</text>
<path d="M474.4 520.6L476.8 516.3L472 516.3Z" fill="#1f3f80"/>
<text x="480.4" y="521.2" font-size="8.7" fill="#1a1a1a" text-anchor="start" textLength="20.5" lengthAdjust="spacingAndGlyphs" stroke="#1a1a1a" stroke-width="0.15">Q56P</text>
<text transform="translate(312.4,588.7) rotate(-90)" font-size="9.2" fill="#1a1a1a" text-anchor="end" textLength="28.8" lengthAdjust="spacingAndGlyphs" stroke="#1a1a1a" stroke-width="0.15">Vehicle</text>
<text transform="translate(324.2,588.7) rotate(-90)" font-size="9.2" fill="#1a1a1a" text-anchor="end" textLength="81.5" lengthAdjust="spacingAndGlyphs" stroke="#1a1a1a" stroke-width="0.15">CI - 1040 + idelalisib</text>
<text transform="translate(335.9,588.7) rotate(-90)" font-size="9.2" fill="#1a1a1a" text-anchor="end" textLength="63.1" lengthAdjust="spacingAndGlyphs" stroke="#1a1a1a" stroke-width="0.15">SCH + idelalisib</text>
<text transform="translate(355.3,588.7) rotate(-90)" font-size="9.2" fill="#1a1a1a" text-anchor="end" textLength="28.8" lengthAdjust="spacingAndGlyphs" stroke="#1a1a1a" stroke-width="0.15">Vehicle</text>
<text transform="translate(366.9,588.7) rotate(-90)" font-size="9.2" fill="#1a1a1a" text-anchor="end" textLength="81.5" lengthAdjust="spacingAndGlyphs" stroke="#1a1a1a" stroke-width="0.15">CI - 1040 + idelalisib</text>
<text transform="translate(378.6,588.7) rotate(-90)" font-size="9.2" fill="#1a1a1a" text-anchor="end" textLength="63.1" lengthAdjust="spacingAndGlyphs" stroke="#1a1a1a" stroke-width="0.15">SCH + idelalisib</text>
<text transform="translate(397.6,588.7) rotate(-90)" font-size="9.2" fill="#1a1a1a" text-anchor="end" textLength="28.8" lengthAdjust="spacingAndGlyphs" stroke="#1a1a1a" stroke-width="0.15">Vehicle</text>
<text transform="translate(409.4,588.7) rotate(-90)" font-size="9.2" fill="#1a1a1a" text-anchor="end" textLength="81.5" lengthAdjust="spacingAndGlyphs" stroke="#1a1a1a" stroke-width="0.15">CI - 1040 + idelalisib</text>
<text transform="translate(420.9,588.7) rotate(-90)" font-size="9.2" fill="#1a1a1a" text-anchor="end" textLength="63.1" lengthAdjust="spacingAndGlyphs" stroke="#1a1a1a" stroke-width="0.15">SCH + idelalisib</text>
<text transform="translate(440.1,588.7) rotate(-90)" font-size="9.2" fill="#1a1a1a" text-anchor="end" textLength="28.8" lengthAdjust="spacingAndGlyphs" stroke="#1a1a1a" stroke-width="0.15">Vehicle</text>
<text transform="translate(451.7,588.7) rotate(-90)" font-size="9.2" fill="#1a1a1a" text-anchor="end" textLength="81.5" lengthAdjust="spacingAndGlyphs" stroke="#1a1a1a" stroke-width="0.15">CI - 1040 + idelalisib</text>
<text transform="translate(463.6,588.7) rotate(-90)" font-size="9.2" fill="#1a1a1a" text-anchor="end" textLength="63.1" lengthAdjust="spacingAndGlyphs" stroke="#1a1a1a" stroke-width="0.15">SCH + idelalisib</text>
<line x1="298.7" y1="673.3" x2="471.9" y2="673.3" stroke="#111" stroke-width="1.2"/>
<text x="368.8" y="684.6" font-size="8.6" fill="#1a1a1a" text-anchor="start" textLength="33.1" lengthAdjust="spacingAndGlyphs" stroke="#1a1a1a" stroke-width="0.15">anti-IgM</text>
<rect x="0" y="0" width="520" height="1.1" fill="#000"/>
<rect x="0" y="0" width="1.2" height="694" fill="#000"/>
<rect x="518.4" y="0" width="1.6" height="694" fill="#000"/>
<rect x="0" y="692.7" width="520" height="1.3" fill="#000"/>
</svg></body></html>
